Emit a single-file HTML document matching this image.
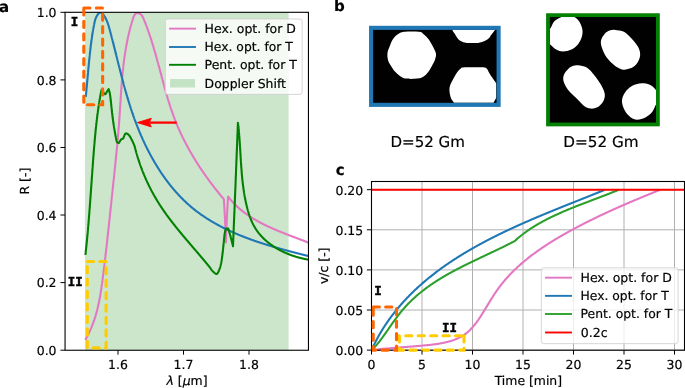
<!DOCTYPE html>
<html lang="en"><head><meta charset="utf-8"><title>Figure</title>
<style>html,body{margin:0;padding:0;background:#fff;overflow:hidden}svg{display:block}text{text-rendering:geometricPrecision;stroke:#000;stroke-width:0.2px}</style>
</head><body>
<svg width="685" height="388" viewBox="0 0 685 388" font-family='"DejaVu Sans", "Liberation Sans", sans-serif' font-size="12.45" fill="#000">
<rect width="685" height="388" fill="#fff"/>
<g opacity="0.999">
<defs><clipPath id="ca"><rect x="65.05" y="12.3" width="243.39999999999998" height="337.95"/></clipPath><clipPath id="cc"><rect x="371.5" y="181.5" width="313.0" height="168.7"/></clipPath></defs>
<g id="panel-a">
<rect x="84.9" y="12.3" width="203.70000000000002" height="337.95" fill="#cce6cc"/>
<g clip-path="url(#ca)">
<path d="M85.30,339.90 L85.51,339.54 L85.72,339.17 L85.93,338.80 L86.13,338.44 L86.33,338.07 L86.54,337.71 L86.74,337.34 L86.93,336.97 L87.13,336.61 L87.32,336.24 L87.52,335.87 L87.71,335.50 L87.90,335.13 L88.08,334.77 L88.27,334.40 L88.45,334.03 L88.64,333.66 L88.82,333.29 L89.00,332.92 L89.17,332.55 L89.35,332.18 L89.52,331.81 L89.69,331.44 L89.87,331.07 L90.03,330.70 L90.20,330.33 L90.37,329.96 L90.53,329.59 L90.69,329.21 L90.86,328.84 L91.02,328.47 L91.17,328.10 L91.33,327.72 L91.49,327.35 L91.64,326.98 L91.79,326.61 L91.94,326.23 L92.09,325.86 L92.24,325.48 L92.38,325.11 L92.53,324.74 L92.67,324.36 L92.81,323.99 L92.96,323.61 L93.09,323.24 L93.23,322.86 L93.37,322.48 L93.50,322.11 L93.64,321.73 L93.77,321.36 L93.90,320.98 L94.03,320.60 L94.16,320.23 L94.29,319.85 L94.41,319.47 L94.54,319.09 L94.66,318.72 L94.78,318.34 L94.90,317.96 L95.02,317.58 L95.14,317.20 L95.26,316.82 L95.37,316.44 L95.49,316.07 L95.60,315.69 L95.71,315.31 L95.83,314.93 L95.94,314.55 L96.05,314.17 L96.15,313.79 L96.26,313.41 L96.37,313.02 L96.47,312.64 L96.57,312.26 L96.68,311.88 L96.78,311.50 L96.88,311.12 L96.98,310.74 L97.08,310.35 L97.17,309.97 L97.27,309.59 L97.36,309.21 L97.46,308.82 L97.55,308.44 L97.64,308.06 L97.74,307.67 L97.83,307.29 L97.92,306.91 L98.01,306.52 L98.09,306.14 L98.18,305.76 L98.27,305.37 L98.35,304.99 L98.44,304.60 L98.52,304.22 L98.60,303.83 L98.68,303.45 L98.76,303.06 L98.84,302.68 L98.92,302.29 L99.00,301.90 L99.08,301.52 L99.16,301.13 L99.23,300.74 L99.31,300.36 L99.38,299.97 L99.46,299.58 L99.53,299.20 L99.60,298.81 L99.68,298.42 L99.75,298.04 L99.82,297.65 L99.89,297.26 L99.96,296.87 L100.03,296.48 L100.09,296.10 L100.16,295.71 L100.23,295.32 L100.29,294.93 L100.36,294.54 L100.43,294.15 L100.49,293.76 L100.55,293.37 L100.62,292.98 L100.68,292.59 L100.74,292.20 L100.81,291.81 L100.87,291.42 L100.93,291.03 L100.99,290.64 L101.05,290.25 L101.11,289.86 L101.17,289.47 L101.23,289.08 L101.29,288.69 L101.34,288.30 L101.40,287.91 L101.46,287.52 L101.52,287.12 L101.57,286.73 L101.63,286.34 L101.68,285.95 L101.74,285.56 L101.79,285.16 L101.85,284.77 L101.90,284.38 L101.96,283.99 L102.01,283.59 L102.07,283.20 L102.12,282.81 L102.17,282.41 L102.23,282.02 L102.28,281.63 L102.33,281.23 L102.38,280.84 L102.44,280.45 L102.49,280.05 L102.54,279.66 L102.59,279.26 L102.64,278.87 L102.70,278.48 L102.75,278.08 L102.80,277.69 L102.85,277.29 L102.90,276.90 L102.95,276.50 L103.00,276.11 L103.05,275.71 L103.10,275.32 L103.15,274.92 L103.20,274.53 L103.25,274.13 L103.31,273.74 L103.36,273.34 L103.41,272.94 L103.46,272.55 L103.51,272.15 L103.56,271.76 L103.61,271.36 L103.65,270.96 L103.70,270.57 L103.75,270.17 L103.80,269.77 L103.85,269.38 L103.90,268.98 L103.95,268.58 L104.00,268.19 L104.05,267.79 L104.10,267.39 L104.15,266.99 L104.20,266.60 L104.24,266.20 L104.29,265.80 L104.34,265.40 L104.39,265.01 L104.44,264.61 L104.49,264.21 L104.53,263.81 L104.58,263.41 L104.63,263.01 L104.68,262.62 L104.73,262.22 L104.77,261.82 L104.82,261.42 L104.87,261.02 L104.92,260.62 L104.96,260.23 L105.01,259.83 L105.06,259.43 L105.11,259.03 L105.15,258.63 L105.20,258.23 L105.25,257.83 L105.29,257.43 L105.34,257.03 L105.39,256.63 L105.43,256.23 L105.48,255.83 L105.53,255.43 L105.57,255.03 L105.62,254.63 L105.67,254.24 L105.71,253.84 L105.76,253.44 L105.81,253.04 L105.85,252.64 L105.90,252.24 L105.94,251.83 L105.99,251.43 L106.04,251.03 L106.08,250.63 L106.13,250.23 L106.17,249.83 L106.22,249.43 L106.26,249.03 L106.31,248.63 L106.36,248.23 L106.40,247.83 L106.45,247.43 L106.49,247.03 L106.54,246.63 L106.58,246.23 L106.63,245.83 L106.67,245.42 L106.72,245.02 L106.76,244.62 L106.81,244.22 L106.85,243.82 L106.90,243.42 L106.94,243.02 L106.99,242.62 L107.03,242.21 L107.07,241.81 L107.12,241.41 L107.16,241.01 L107.21,240.61 L107.25,240.21 L107.30,239.81 L107.34,239.40 L107.39,239.00 L107.43,238.60 L107.47,238.20 L107.52,237.80 L107.56,237.40 L107.61,236.99 L107.65,236.59 L107.69,236.19 L107.74,235.79 L107.78,235.39 L107.83,234.98 L107.87,234.58 L107.91,234.18 L107.96,233.78 L108.00,233.38 L108.04,232.97 L108.09,232.57 L108.13,232.17 L108.17,231.77 L108.22,231.37 L108.26,230.96 L108.30,230.56 L108.35,230.16 L108.39,229.76 L108.43,229.36 L108.48,228.95 L108.52,228.55 L108.56,228.15 L108.61,227.75 L108.65,227.34 L108.69,226.94 L108.74,226.54 L108.78,226.14 L108.82,225.74 L108.87,225.33 L108.91,224.93 L108.95,224.53 L108.99,224.13 L109.04,223.72 L109.08,223.32 L109.12,222.92 L109.17,222.52 L109.21,222.12 L109.25,221.71 L109.29,221.31 L109.34,220.91 L109.38,220.51 L109.42,220.10 L109.46,219.70 L109.51,219.30 L109.55,218.90 L109.59,218.50 L109.63,218.09 L109.68,217.69 L109.72,217.29 L109.76,216.89 L109.80,216.49 L109.85,216.08 L109.89,215.68 L109.93,215.28 L109.97,214.88 L110.02,214.48 L110.06,214.07 L110.10,213.67 L110.14,213.27 L110.19,212.87 L110.23,212.47 L110.27,212.06 L110.31,211.66 L110.35,211.26 L110.40,210.86 L110.44,210.46 L110.48,210.05 L110.52,209.65 L110.57,209.25 L110.61,208.85 L110.65,208.45 L110.69,208.05 L110.73,207.65 L110.78,207.24 L110.82,206.84 L110.86,206.44 L110.90,206.04 L110.95,205.64 L110.99,205.24 L111.03,204.84 L111.07,204.43 L111.11,204.03 L111.16,203.63 L111.20,203.23 L111.24,202.83 L111.28,202.43 L111.32,202.03 L111.37,201.63 L111.41,201.23 L111.45,200.82 L111.49,200.42 L111.54,200.02 L111.58,199.62 L111.62,199.22 L111.66,198.82 L111.70,198.42 L111.75,198.02 L111.79,197.62 L111.83,197.22 L111.87,196.82 L111.92,196.42 L111.96,196.02 L112.00,195.62 L112.04,195.22 L112.08,194.82 L112.13,194.42 L112.17,194.02 L112.21,193.62 L112.25,193.22 L112.30,192.82 L112.34,192.42 L112.38,192.02 L112.42,191.62 L112.47,191.22 L112.51,190.82 L112.55,190.42 L112.59,190.02 L112.64,189.62 L112.68,189.22 L112.72,188.83 L112.76,188.43 L112.80,188.03 L112.85,187.63 L112.89,187.23 L112.93,186.83 L112.97,186.43 L113.02,186.03 L113.06,185.63 L113.10,185.24 L113.14,184.84 L113.19,184.44 L113.23,184.04 L113.27,183.64 L113.31,183.24 L113.36,182.84 L113.40,182.45 L113.44,182.05 L113.48,181.65 L113.52,181.25 L113.57,180.85 L113.61,180.46 L113.65,180.06 L113.69,179.66 L113.73,179.26 L113.78,178.86 L113.82,178.47 L113.86,178.07 L113.90,177.67 L113.94,177.27 L113.99,176.88 L114.03,176.48 L114.07,176.08 L114.11,175.68 L114.15,175.29 L114.20,174.89 L114.24,174.49 L114.28,174.09 L114.32,173.70 L114.36,173.30 L114.40,172.90 L114.45,172.51 L114.49,172.11 L114.53,171.71 L114.57,171.31 L114.61,170.92 L114.65,170.52 L114.69,170.12 L114.74,169.73 L114.78,169.33 L114.82,168.93 L114.86,168.54 L114.90,168.14 L114.94,167.74 L114.98,167.35 L115.02,166.95 L115.06,166.55 L115.11,166.16 L115.15,165.76 L115.19,165.36 L115.23,164.97 L115.27,164.57 L115.31,164.17 L115.35,163.78 L115.39,163.38 L115.43,162.99 L115.47,162.59 L115.51,162.19 L115.55,161.80 L115.59,161.40 L115.63,161.00 L115.67,160.61 L115.71,160.21 L115.75,159.82 L115.79,159.42 L115.83,159.02 L115.87,158.63 L115.91,158.23 L115.95,157.84 L115.99,157.44 L116.03,157.05 L116.07,156.65 L116.11,156.25 L116.15,155.86 L116.19,155.46 L116.22,155.07 L116.26,154.67 L116.30,154.28 L116.34,153.88 L116.38,153.48 L116.42,153.09 L116.46,152.69 L116.50,152.30 L116.53,151.90 L116.57,151.51 L116.61,151.11 L116.65,150.72 L116.69,150.32 L116.72,149.93 L116.76,149.53 L116.80,149.14 L116.84,148.74 L116.88,148.34 L116.91,147.95 L116.95,147.55 L116.99,147.16 L117.03,146.76 L117.06,146.37 L117.10,145.97 L117.14,145.58 L117.17,145.18 L117.21,144.79 L117.25,144.39 L117.28,144.00 L117.32,143.60 L117.36,143.21 L117.39,142.81 L117.43,142.42 L117.46,142.02 L117.50,141.63 L117.54,141.23 L117.57,140.84 L117.61,140.44 L117.64,140.05 L117.68,139.65 L117.71,139.26 L117.75,138.86 L117.78,138.47 L117.82,138.07 L117.85,137.68 L117.89,137.28 L117.92,136.89 L117.96,136.49 L117.99,136.10 L118.02,135.70 L118.06,135.31 L118.09,134.91 L118.13,134.52 L118.16,134.12 L118.19,133.73 L118.23,133.33 L118.26,132.94 L118.29,132.54 L118.33,132.15 L118.36,131.76 L118.39,131.36 L118.42,130.97 L118.46,130.57 L118.49,130.18 L118.52,129.78 L118.55,129.39 L118.58,128.99 L118.62,128.60 L118.65,128.20 L118.68,127.81 L118.71,127.41 L118.74,127.02 L118.77,126.62 L118.80,126.23 L118.83,125.83 L118.87,125.44 L118.90,125.04 L118.93,124.65 L118.96,124.25 L118.99,123.86 L119.02,123.46 L119.05,123.07 L119.08,122.67 L119.11,122.28 L119.13,121.89 L119.16,121.49 L119.19,121.10 L119.22,120.70 L119.25,120.31 L119.28,119.91 L119.31,119.52 L119.34,119.12 L119.36,118.73 L119.39,118.33 L119.42,117.94 L119.45,117.54 L119.47,117.15 L119.50,116.75 L119.53,116.36 L119.56,115.96 L119.58,115.57 L119.61,115.17 L119.64,114.78 L119.66,114.38 L119.69,113.99 L119.71,113.59 L119.74,113.20 L119.77,112.80 L119.79,112.41 L119.82,112.01 L119.84,111.62 L119.87,111.22 L119.89,110.83 L119.92,110.43 L119.95,110.04 L119.97,109.64 L120.00,109.25 L120.02,108.85 L120.05,108.46 L120.07,108.06 L120.10,107.66 L120.12,107.27 L120.15,106.87 L120.17,106.48 L120.20,106.08 L120.22,105.69 L120.25,105.29 L120.27,104.90 L120.30,104.50 L120.32,104.11 L120.34,103.71 L120.37,103.32 L120.39,102.92 L120.42,102.52 L120.44,102.13 L120.47,101.73 L120.49,101.34 L120.52,100.94 L120.54,100.55 L120.57,100.15 L120.59,99.76 L120.62,99.36 L120.64,98.96 L120.67,98.57 L120.69,98.17 L120.72,97.78 L120.75,97.38 L120.77,96.98 L120.80,96.59 L120.82,96.19 L120.85,95.80 L120.87,95.40 L120.90,95.00 L120.93,94.61 L120.95,94.21 L120.98,93.82 L121.00,93.42 L121.03,93.02 L121.06,92.63 L121.08,92.23 L121.11,91.84 L121.14,91.44 L121.16,91.04 L121.19,90.65 L121.22,90.25 L121.25,89.85 L121.27,89.46 L121.30,89.06 L121.33,88.66 L121.36,88.27 L121.39,87.87 L121.42,87.47 L121.45,87.08 L121.47,86.68 L121.50,86.28 L121.53,85.89 L121.56,85.49 L121.59,85.09 L121.62,84.70 L121.65,84.30 L121.68,83.90 L121.71,83.51 L121.74,83.11 L121.78,82.71 L121.81,82.31 L121.84,81.92 L121.87,81.52 L121.90,81.12 L121.94,80.73 L121.97,80.33 L122.00,79.93 L122.03,79.53 L122.07,79.14 L122.10,78.74 L122.14,78.34 L122.17,77.94 L122.21,77.55 L122.24,77.15 L122.28,76.75 L122.31,76.35 L122.35,75.96 L122.38,75.56 L122.42,75.16 L122.46,74.76 L122.50,74.36 L122.53,73.97 L122.57,73.57 L122.61,73.17 L122.65,72.77 L122.69,72.37 L122.73,71.97 L122.77,71.58 L122.81,71.18 L122.85,70.78 L122.89,70.38 L122.93,69.98 L122.97,69.58 L123.01,69.19 L123.05,68.79 L123.10,68.39 L123.14,67.99 L123.18,67.59 L123.23,67.19 L123.27,66.79 L123.32,66.39 L123.36,65.99 L123.41,65.60 L123.46,65.20 L123.50,64.80 L123.55,64.40 L123.60,64.00 L123.65,63.60 L123.69,63.20 L123.74,62.80 L123.79,62.40 L123.84,62.00 L123.89,61.60 L123.94,61.20 L123.99,60.80 L124.05,60.40 L124.10,60.00 L124.15,59.60 L124.21,59.20 L124.26,58.80 L124.31,58.40 L124.37,58.00 L124.42,57.60 L124.48,57.20 L124.54,56.80 L124.59,56.40 L124.65,56.00 L124.71,55.60 L124.77,55.20 L124.83,54.80 L124.89,54.40 L124.95,54.00 L125.01,53.60 L125.07,53.19 L125.13,52.79 L125.20,52.39 L125.26,51.99 L125.32,51.59 L125.39,51.19 L125.45,50.79 L125.52,50.39 L125.58,49.99 L125.65,49.58 L125.72,49.18 L125.79,48.78 L125.86,48.38 L125.92,47.98 L125.99,47.57 L126.07,47.17 L126.14,46.77 L126.21,46.37 L126.28,45.97 L126.36,45.56 L126.43,45.16 L126.50,44.76 L126.58,44.36 L126.66,43.95 L126.73,43.55 L126.81,43.15 L126.89,42.75 L126.97,42.34 L127.05,41.94 L127.13,41.54 L127.21,41.14 L127.29,40.73 L127.37,40.33 L127.45,39.93 L127.54,39.52 L127.62,39.12 L127.71,38.72 L127.79,38.31 L127.88,37.91 L127.97,37.50 L128.06,37.10 L128.15,36.70 L128.24,36.29 L128.33,35.89 L128.42,35.48 L128.51,35.08 L128.60,34.68 L128.70,34.27 L128.79,33.87 L128.89,33.46 L128.98,33.06 L129.08,32.65 L129.18,32.25 L129.28,31.84 L129.38,31.44 L129.48,31.03 L129.58,30.63 L129.68,30.22 L129.78,29.82 L129.88,29.41 L129.99,29.01 L130.09,28.60 L130.20,28.20 L130.31,27.80 L130.42,27.39 L130.52,26.99 L130.63,26.58 L130.74,26.18 L130.86,25.78 L130.97,25.38 L131.08,24.98 L131.19,24.58 L131.31,24.18 L131.43,23.78 L131.54,23.38 L131.66,22.99 L131.78,22.59 L131.90,22.20 L132.02,21.81 L132.14,21.41 L132.26,21.02 L132.39,20.63 L132.51,20.25 L132.64,19.86 L132.76,19.47 L132.89,19.09 L133.02,18.71 L133.15,18.33 L133.28,17.95 L133.41,17.57 L133.54,17.20 L133.68,16.84 L133.82,16.48 L133.97,16.14 L134.13,15.80 L134.29,15.47 L134.46,15.16 L134.64,14.87 L134.82,14.59 L135.02,14.32 L135.23,14.08 L135.45,13.86 L135.69,13.66 L135.94,13.49 L136.20,13.34 L136.48,13.21 L136.77,13.12 L137.07,13.05 L137.38,13.02 L137.70,13.01 L138.03,13.04 L138.36,13.10 L138.69,13.19 L139.02,13.31 L139.35,13.45 L139.68,13.62 L140.00,13.81 L140.32,14.02 L140.63,14.26 L140.93,14.51 L141.22,14.78 L141.49,15.07 L141.75,15.37 L141.99,15.69 L142.22,16.02 L142.43,16.36 L142.63,16.71 L142.82,17.07 L143.00,17.44 L143.17,17.81 L143.34,18.19 L143.50,18.57 L143.66,18.95 L143.82,19.34 L143.98,19.72 L144.13,20.10 L144.29,20.48 L144.44,20.87 L144.60,21.25 L144.75,21.63 L144.90,22.02 L145.06,22.40 L145.21,22.78 L145.36,23.17 L145.51,23.55 L145.66,23.93 L145.80,24.32 L145.95,24.70 L146.10,25.08 L146.25,25.47 L146.39,25.85 L146.54,26.24 L146.68,26.62 L146.82,27.01 L146.97,27.39 L147.11,27.77 L147.25,28.16 L147.39,28.54 L147.53,28.93 L147.67,29.31 L147.81,29.70 L147.95,30.08 L148.09,30.47 L148.22,30.85 L148.36,31.24 L148.50,31.62 L148.63,32.01 L148.77,32.39 L148.90,32.78 L149.03,33.17 L149.17,33.55 L149.30,33.94 L149.43,34.32 L149.56,34.71 L149.69,35.09 L149.82,35.48 L149.95,35.87 L150.08,36.25 L150.21,36.64 L150.34,37.02 L150.47,37.41 L150.59,37.80 L150.72,38.18 L150.85,38.57 L150.97,38.96 L151.10,39.34 L151.22,39.73 L151.34,40.11 L151.47,40.50 L151.59,40.89 L151.71,41.27 L151.83,41.66 L151.96,42.05 L152.08,42.43 L152.20,42.82 L152.32,43.21 L152.44,43.59 L152.56,43.98 L152.68,44.37 L152.80,44.75 L152.91,45.14 L153.03,45.53 L153.15,45.92 L153.27,46.30 L153.38,46.69 L153.50,47.08 L153.61,47.46 L153.73,47.85 L153.84,48.24 L153.96,48.63 L154.07,49.01 L154.19,49.40 L154.30,49.79 L154.41,50.17 L154.53,50.56 L154.64,50.95 L154.75,51.34 L154.86,51.72 L154.97,52.11 L155.09,52.50 L155.20,52.88 L155.31,53.27 L155.42,53.66 L155.53,54.05 L155.64,54.43 L155.75,54.82 L155.86,55.21 L155.97,55.60 L156.07,55.98 L156.18,56.37 L156.29,56.76 L156.40,57.14 L156.51,57.53 L156.61,57.92 L156.72,58.31 L156.83,58.69 L156.94,59.08 L157.04,59.47 L157.15,59.85 L157.26,60.24 L157.36,60.63 L157.47,61.02 L157.57,61.40 L157.68,61.79 L157.78,62.18 L157.89,62.56 L157.99,62.95 L158.10,63.34 L158.20,63.72 L158.31,64.11 L158.41,64.50 L158.52,64.89 L158.62,65.27 L158.72,65.66 L158.83,66.05 L158.93,66.43 L159.04,66.82 L159.14,67.21 L159.24,67.59 L159.35,67.98 L159.45,68.37 L159.55,68.75 L159.66,69.14 L159.76,69.52 L159.86,69.91 L159.97,70.30 L160.07,70.68 L160.17,71.07 L160.27,71.46 L160.38,71.84 L160.48,72.23 L160.58,72.61 L160.69,73.00 L160.79,73.39 L160.89,73.77 L160.99,74.16 L161.10,74.54 L161.20,74.93 L161.30,75.31 L161.41,75.70 L161.51,76.09 L161.61,76.47 L161.71,76.86 L161.82,77.24 L161.92,77.63 L162.02,78.01 L162.13,78.40 L162.23,78.78 L162.33,79.17 L162.44,79.55 L162.54,79.94 L162.64,80.32 L162.75,80.71 L162.85,81.09 L162.95,81.47 L163.06,81.86 L163.16,82.24 L163.27,82.63 L163.37,83.01 L163.48,83.40 L163.58,83.78 L163.69,84.16 L163.79,84.55 L163.90,84.93 L164.00,85.32 L164.11,85.70 L164.21,86.08 L164.32,86.47 L164.42,86.85 L164.53,87.23 L164.64,87.61 L164.74,88.00 L164.85,88.38 L164.96,88.76 L165.06,89.15 L165.17,89.53 L165.28,89.91 L165.39,90.29 L165.49,90.68 L165.60,91.06 L165.71,91.44 L165.82,91.82 L165.93,92.20 L166.04,92.59 L166.15,92.97 L166.26,93.35 L166.37,93.73 L166.48,94.11 L166.59,94.49 L166.70,94.87 L166.81,95.25 L166.92,95.63 L167.03,96.02 L167.15,96.40 L167.26,96.78 L167.37,97.16 L167.49,97.54 L167.60,97.92 L167.71,98.30 L167.83,98.68 L167.94,99.06 L168.06,99.44 L168.17,99.81 L168.29,100.19 L168.40,100.57 L168.52,100.95 L168.64,101.33 L168.76,101.71 L168.87,102.09 L168.99,102.47 L169.11,102.84 L169.23,103.22 L169.35,103.60 L169.47,103.98 L169.59,104.36 L169.71,104.73 L169.83,105.11 L169.95,105.49 L170.07,105.87 L170.20,106.24 L170.32,106.62 L170.44,107.00 L170.57,107.37 L170.69,107.75 L170.82,108.12 L170.94,108.50 L171.07,108.88 L171.20,109.25 L171.32,109.63 L171.45,110.00 L171.58,110.38 L171.71,110.75 L171.84,111.13 L171.97,111.50 L172.10,111.88 L172.23,112.25 L172.36,112.62 L172.49,113.00 L172.62,113.37 L172.76,113.75 L172.89,114.12 L173.02,114.49 L173.16,114.87 L173.29,115.24 L173.43,115.61 L173.57,115.98 L173.70,116.36 L173.84,116.73 L173.98,117.10 L174.12,117.47 L174.26,117.84 L174.40,118.22 L174.54,118.59 L174.68,118.96 L174.82,119.33 L174.97,119.70 L175.11,120.07 L175.26,120.44 L175.40,120.81 L175.55,121.18 L175.69,121.55 L175.84,121.92 L175.99,122.29 L176.14,122.66 L176.29,123.03 L176.44,123.39 L176.59,123.76 L176.74,124.13 L176.89,124.50 L177.04,124.87 L177.20,125.23 L177.35,125.60 L177.51,125.97 L177.66,126.34 L177.82,126.70 L177.97,127.07 L178.13,127.44 L178.29,127.80 L178.45,128.17 L178.61,128.53 L178.77,128.90 L178.93,129.26 L179.09,129.63 L179.25,129.99 L179.42,130.36 L179.58,130.72 L179.75,131.09 L179.91,131.45 L180.08,131.81 L180.24,132.18 L180.41,132.54 L180.58,132.90 L180.75,133.27 L180.92,133.63 L181.09,133.99 L181.26,134.35 L181.43,134.72 L181.60,135.08 L181.77,135.44 L181.94,135.80 L182.12,136.16 L182.29,136.52 L182.47,136.88 L182.64,137.24 L182.82,137.60 L182.99,137.96 L183.17,138.32 L183.35,138.68 L183.53,139.04 L183.71,139.40 L183.89,139.76 L184.07,140.12 L184.25,140.47 L184.43,140.83 L184.61,141.19 L184.80,141.55 L184.98,141.90 L185.16,142.26 L185.35,142.62 L185.53,142.97 L185.72,143.33 L185.90,143.68 L186.09,144.04 L186.28,144.40 L186.47,144.75 L186.66,145.11 L186.85,145.46 L187.04,145.81 L187.23,146.17 L187.42,146.52 L187.61,146.88 L187.80,147.23 L187.99,147.58 L188.19,147.93 L188.38,148.29 L188.58,148.64 L188.77,148.99 L188.97,149.34 L189.16,149.69 L189.36,150.04 L189.56,150.40 L189.75,150.75 L189.95,151.10 L190.15,151.45 L190.35,151.80 L190.55,152.15 L190.75,152.49 L190.95,152.84 L191.15,153.19 L191.36,153.54 L191.56,153.89 L191.76,154.24 L191.96,154.58 L192.17,154.93 L192.37,155.28 L192.58,155.63 L192.78,155.97 L192.99,156.32 L193.20,156.66 L193.40,157.01 L193.61,157.35 L193.82,157.70 L194.03,158.04 L194.24,158.39 L194.45,158.73 L194.66,159.08 L194.87,159.42 L195.08,159.76 L195.29,160.11 L195.50,160.45 L195.72,160.79 L195.93,161.13 L196.14,161.48 L196.36,161.82 L196.57,162.16 L196.79,162.50 L197.00,162.84 L197.22,163.18 L197.44,163.52 L197.65,163.86 L197.87,164.20 L198.09,164.54 L198.31,164.88 L198.52,165.22 L198.74,165.55 L198.96,165.89 L199.18,166.23 L199.40,166.57 L199.63,166.90 L199.85,167.24 L200.07,167.58 L200.29,167.91 L200.51,168.25 L200.74,168.58 L200.96,168.92 L201.18,169.25 L201.41,169.59 L201.63,169.92 L201.86,170.26 L202.09,170.59 L202.31,170.92 L202.54,171.26 L202.76,171.59 L202.99,171.92 L203.22,172.25 L203.45,172.58 L203.68,172.92 L203.91,173.25 L204.14,173.58 L204.37,173.91 L204.60,174.24 L204.83,174.57 L205.06,174.90 L205.29,175.23 L205.52,175.55 L205.75,175.88 L205.99,176.21 L206.22,176.54 L206.45,176.87 L206.69,177.19 L206.92,177.52 L207.15,177.85 L207.39,178.17 L207.62,178.50 L207.86,178.82 L208.10,179.15 L208.33,179.47 L208.57,179.80 L208.80,180.12 L209.04,180.44 L209.28,180.77 L209.52,181.09 L209.76,181.41 L210.00,181.73 L210.23,182.06 L210.47,182.38 L210.71,182.70 L210.95,183.02 L211.19,183.34 L211.43,183.66 L211.68,183.98 L211.92,184.30 L212.16,184.62 L212.40,184.94 L212.64,185.26 L212.89,185.57 L213.13,185.89 L213.37,186.21 L213.62,186.53 L213.86,186.84 L214.10,187.16 L214.35,187.47 L214.59,187.79 L214.84,188.11 L215.08,188.42 L215.33,188.73 L215.58,189.05 L215.82,189.36 L216.07,189.68 L216.32,189.99 L216.56,190.30 L216.81,190.61 L217.06,190.92 L217.31,191.24 L217.56,191.55 L217.80,191.86 L218.05,192.17 L218.30,192.48 L218.55,192.79 L218.80,193.10 L219.05,193.41 L219.30,193.71 L219.55,194.02 L219.80,194.33 L220.05,194.64 L220.31,194.94 L220.56,195.25 L220.81,195.56 L221.06,195.86 L221.31,196.17 L221.57,196.47 L221.82,196.78 L222.07,197.08 L222.33,197.39 L222.58,197.69 L222.83,197.99 L223.09,198.29 L223.34,198.60 L223.60,198.90 L223.85,199.20 L223.88,199.60 L223.90,200.01 L223.93,200.41 L223.95,200.81 L223.98,201.22 L224.00,201.62 L224.03,202.02 L224.05,202.43 L224.08,202.83 L224.10,203.23 L224.13,203.64 L224.15,204.04 L224.18,204.45 L224.20,204.85 L224.22,205.25 L224.25,205.66 L224.27,206.06 L224.29,206.46 L224.32,206.87 L224.34,207.27 L224.36,207.67 L224.39,208.08 L224.41,208.48 L224.43,208.88 L224.46,209.29 L224.48,209.69 L224.50,210.09 L224.52,210.50 L224.55,210.90 L224.57,211.31 L224.59,211.71 L224.61,212.11 L224.64,212.52 L224.66,212.92 L224.68,213.32 L224.70,213.73 L224.72,214.13 L224.74,214.53 L224.76,214.94 L224.78,215.34 L224.80,215.75 L224.83,216.15 L224.85,216.55 L224.87,216.96 L224.89,217.36 L224.91,217.76 L224.93,218.17 L224.95,218.57 L224.97,218.98 L224.99,219.38 L225.01,219.78 L225.02,220.19 L225.04,220.59 L225.06,220.99 L225.08,221.40 L225.10,221.80 L225.12,222.21 L225.14,222.61 L225.16,223.01 L225.17,223.42 L225.19,223.82 L225.20,224.00 L225.21,224.22 L225.23,224.63 L225.25,225.03 L225.26,225.44 L225.28,225.84 L225.30,226.24 L225.32,226.65 L225.33,227.05 L225.35,227.45 L225.37,227.86 L225.38,228.26 L225.40,228.67 L225.42,229.07 L225.43,229.47 L225.45,229.88 L225.47,230.28 L225.48,230.69 L225.50,231.09 L225.51,231.49 L225.53,231.90 L225.55,232.30 L225.56,232.70 L225.58,233.11 L225.59,233.51 L225.61,233.92 L225.62,234.32 L225.64,234.72 L225.65,235.13 L225.67,235.53 L225.68,235.94 L225.70,236.34 L225.71,236.74 L225.73,237.15 L225.74,237.55 L225.75,237.96 L225.77,238.36 L225.78,238.76 L225.80,239.17 L225.81,239.57 L225.82,239.98 L225.84,240.38 L225.85,240.78 L225.86,241.19 L225.87,241.59 L225.89,242.00 L225.90,242.40 L225.91,241.99 L225.93,241.59 L225.94,241.18 L225.95,240.78 L225.97,240.37 L225.98,239.97 L225.99,239.56 L226.01,239.16 L226.02,238.75 L226.03,238.34 L226.05,237.94 L226.06,237.53 L226.08,237.13 L226.09,236.72 L226.10,236.32 L226.12,235.91 L226.13,235.51 L226.15,235.10 L226.16,234.69 L226.18,234.29 L226.19,233.88 L226.21,233.48 L226.22,233.07 L226.24,232.67 L226.26,232.26 L226.27,231.86 L226.29,231.45 L226.30,231.04 L226.32,230.64 L226.34,230.23 L226.35,229.83 L226.37,229.42 L226.39,229.02 L226.40,228.61 L226.42,228.21 L226.44,227.80 L226.45,227.40 L226.47,226.99 L226.49,226.58 L226.50,226.18 L226.52,225.77 L226.54,225.37 L226.56,224.96 L226.58,224.56 L226.59,224.15 L226.60,224.00 L226.61,223.75 L226.63,223.34 L226.65,222.94 L226.67,222.53 L226.68,222.13 L226.70,221.72 L226.72,221.32 L226.74,220.91 L226.76,220.50 L226.78,220.10 L226.80,219.69 L226.82,219.29 L226.84,218.88 L226.86,218.48 L226.88,218.07 L226.90,217.67 L226.92,217.26 L226.94,216.86 L226.96,216.45 L226.98,216.05 L227.00,215.64 L227.02,215.24 L227.04,214.83 L227.06,214.43 L227.08,214.02 L227.10,213.61 L227.12,213.21 L227.15,212.80 L227.17,212.40 L227.19,211.99 L227.21,211.59 L227.23,211.18 L227.25,210.78 L227.28,210.37 L227.30,209.97 L227.32,209.56 L227.34,209.16 L227.37,208.75 L227.39,208.35 L227.41,207.94 L227.43,207.54 L227.46,207.13 L227.48,206.73 L227.50,206.32 L227.53,205.92 L227.55,205.51 L227.57,205.11 L227.60,204.70 L227.62,204.30 L227.65,203.89 L227.67,203.49 L227.70,203.08 L227.72,202.68 L227.74,202.27 L227.77,201.87 L227.79,201.46 L227.82,201.06 L227.84,200.65 L227.87,200.25 L227.89,199.84 L227.92,199.44 L227.94,199.03 L227.97,198.63 L228.00,198.22 L228.02,197.82 L228.05,197.41 L228.07,197.00 L228.10,196.60 L228.35,196.92 L228.60,197.25 L228.85,197.57 L229.10,197.89 L229.36,198.21 L229.61,198.52 L229.87,198.84 L230.13,199.15 L230.39,199.46 L230.65,199.77 L230.91,200.08 L231.18,200.38 L231.44,200.69 L231.71,200.99 L231.98,201.29 L232.25,201.59 L232.52,201.89 L232.79,202.18 L233.07,202.48 L233.34,202.77 L233.62,203.06 L233.90,203.35 L234.18,203.64 L234.46,203.93 L234.74,204.21 L235.02,204.50 L235.31,204.78 L235.59,205.06 L235.88,205.34 L236.17,205.62 L236.46,205.89 L236.75,206.17 L237.04,206.44 L237.33,206.71 L237.62,206.98 L237.92,207.25 L238.22,207.52 L238.51,207.79 L238.81,208.05 L239.11,208.32 L239.41,208.58 L239.72,208.84 L240.02,209.10 L240.32,209.35 L240.63,209.61 L240.93,209.87 L241.24,210.12 L241.55,210.37 L241.86,210.62 L242.17,210.87 L242.48,211.12 L242.80,211.37 L243.11,211.61 L243.43,211.86 L243.74,212.10 L244.06,212.34 L244.38,212.58 L244.70,212.82 L245.02,213.06 L245.34,213.30 L245.66,213.53 L245.98,213.77 L246.31,214.00 L246.63,214.23 L246.96,214.46 L247.29,214.69 L247.61,214.92 L247.94,215.14 L248.27,215.37 L248.60,215.60 L248.93,215.82 L249.27,216.04 L249.60,216.26 L249.93,216.48 L250.27,216.70 L250.60,216.92 L250.94,217.14 L251.28,217.35 L251.62,217.57 L251.96,217.78 L252.30,217.99 L252.64,218.20 L252.98,218.41 L253.32,218.62 L253.66,218.83 L254.01,219.04 L254.35,219.24 L254.70,219.45 L255.04,219.65 L255.39,219.85 L255.74,220.06 L256.09,220.26 L256.43,220.46 L256.78,220.66 L257.13,220.85 L257.49,221.05 L257.84,221.25 L258.19,221.44 L258.54,221.64 L258.90,221.83 L259.25,222.02 L259.61,222.21 L259.96,222.40 L260.32,222.59 L260.67,222.78 L261.03,222.97 L261.39,223.16 L261.75,223.34 L262.11,223.53 L262.47,223.71 L262.83,223.90 L263.19,224.08 L263.55,224.26 L263.91,224.44 L264.27,224.62 L264.64,224.80 L265.00,224.98 L265.36,225.16 L265.73,225.34 L266.09,225.51 L266.46,225.69 L266.82,225.86 L267.19,226.04 L267.56,226.21 L267.92,226.38 L268.29,226.56 L268.66,226.73 L269.03,226.90 L269.40,227.07 L269.77,227.24 L270.14,227.41 L270.51,227.57 L270.88,227.74 L271.25,227.91 L271.62,228.07 L271.99,228.24 L272.36,228.40 L272.73,228.57 L273.11,228.73 L273.48,228.90 L273.85,229.06 L274.22,229.22 L274.60,229.38 L274.97,229.54 L275.35,229.70 L275.72,229.86 L276.10,230.02 L276.47,230.18 L276.85,230.34 L277.22,230.49 L277.60,230.65 L277.97,230.81 L278.35,230.96 L278.72,231.12 L279.10,231.27 L279.48,231.43 L279.85,231.58 L280.23,231.73 L280.61,231.89 L280.98,232.04 L281.36,232.19 L281.74,232.34 L282.12,232.50 L282.49,232.65 L282.87,232.80 L283.25,232.95 L283.63,233.10 L284.01,233.25 L284.38,233.40 L284.76,233.54 L285.14,233.69 L285.52,233.84 L285.90,233.99 L286.28,234.14 L286.65,234.28 L287.03,234.43 L287.41,234.58 L287.79,234.72 L288.17,234.87 L288.55,235.01 L288.92,235.16 L289.30,235.31 L289.68,235.45 L290.06,235.59 L290.44,235.74 L290.81,235.88 L291.19,236.03 L291.57,236.17 L291.95,236.31 L292.32,236.46 L292.70,236.60 L293.08,236.74 L293.46,236.89 L293.83,237.03 L294.21,237.17 L294.59,237.31 L294.96,237.46 L295.34,237.60 L295.72,237.74 L296.09,237.88 L296.47,238.02 L296.84,238.17 L297.22,238.31 L297.59,238.45 L297.97,238.59 L298.34,238.73 L298.72,238.87 L299.09,239.01 L299.47,239.16 L299.84,239.30 L300.21,239.44 L300.59,239.58 L300.96,239.72 L301.33,239.86 L301.70,240.00 L302.07,240.14 L302.45,240.29 L302.82,240.43 L303.19,240.57 L303.56,240.71 L303.93,240.85 L304.30,240.99 L304.67,241.13 L305.04,241.28 L305.40,241.42 L305.77,241.56 L306.14,241.70 L306.51,241.84 L306.87,241.99 L307.24,242.13 L307.61,242.27 L307.97,242.41 L308.34,242.56 L308.70,242.70" fill="none" stroke="#e377c2" stroke-width="2.1" stroke-linejoin="round" stroke-linecap="butt" />
<path d="M85.75,96.80 L85.79,96.46 L85.82,96.12 L85.86,95.77 L85.90,95.43 L85.93,95.08 L85.97,94.73 L86.01,94.38 L86.04,94.03 L86.08,93.68 L86.12,93.32 L86.15,92.97 L86.19,92.61 L86.22,92.25 L86.26,91.89 L86.30,91.53 L86.33,91.17 L86.37,90.80 L86.40,90.44 L86.44,90.07 L86.47,89.70 L86.51,89.34 L86.55,88.97 L86.58,88.59 L86.62,88.22 L86.65,87.85 L86.69,87.47 L86.72,87.10 L86.76,86.72 L86.79,86.34 L86.83,85.96 L86.86,85.58 L86.90,85.20 L86.93,84.82 L86.97,84.44 L87.00,84.05 L87.04,83.67 L87.07,83.28 L87.11,82.89 L87.15,82.51 L87.18,82.12 L87.22,81.73 L87.25,81.34 L87.29,80.94 L87.32,80.55 L87.36,80.16 L87.39,79.76 L87.43,79.37 L87.46,78.97 L87.50,78.57 L87.54,78.17 L87.57,77.78 L87.61,77.38 L87.64,76.98 L87.68,76.57 L87.71,76.17 L87.75,75.77 L87.79,75.37 L87.82,74.96 L87.86,74.56 L87.90,74.15 L87.93,73.75 L87.97,73.34 L88.01,72.93 L88.04,72.53 L88.08,72.12 L88.12,71.71 L88.15,71.30 L88.19,70.89 L88.23,70.48 L88.27,70.07 L88.30,69.65 L88.34,69.24 L88.38,68.83 L88.42,68.42 L88.46,68.00 L88.49,67.59 L88.53,67.17 L88.57,66.76 L88.61,66.34 L88.65,65.93 L88.69,65.51 L88.73,65.10 L88.77,64.68 L88.81,64.26 L88.85,63.85 L88.89,63.43 L88.93,63.01 L88.97,62.59 L89.01,62.17 L89.05,61.75 L89.09,61.34 L89.13,60.92 L89.17,60.50 L89.22,60.08 L89.26,59.66 L89.30,59.24 L89.34,58.82 L89.39,58.40 L89.43,57.98 L89.47,57.56 L89.51,57.14 L89.56,56.72 L89.60,56.30 L89.65,55.88 L89.69,55.46 L89.74,55.04 L89.78,54.62 L89.83,54.20 L89.87,53.78 L89.92,53.36 L89.96,52.94 L90.01,52.52 L90.06,52.10 L90.10,51.68 L90.15,51.26 L90.20,50.84 L90.25,50.42 L90.29,50.00 L90.34,49.58 L90.39,49.16 L90.44,48.74 L90.49,48.32 L90.54,47.91 L90.59,47.49 L90.64,47.07 L90.69,46.65 L90.74,46.24 L90.79,45.82 L90.84,45.40 L90.89,44.99 L90.95,44.57 L91.00,44.15 L91.05,43.74 L91.11,43.33 L91.16,42.91 L91.21,42.50 L91.27,42.08 L91.32,41.67 L91.38,41.26 L91.43,40.85 L91.49,40.44 L91.55,40.03 L91.60,39.62 L91.66,39.21 L91.72,38.80 L91.78,38.39 L91.84,37.98 L91.89,37.57 L91.95,37.17 L92.01,36.76 L92.07,36.35 L92.13,35.95 L92.20,35.55 L92.26,35.14 L92.32,34.74 L92.38,34.34 L92.44,33.94 L92.51,33.54 L92.57,33.14 L92.63,32.74 L92.70,32.34 L92.76,31.94 L92.83,31.54 L92.90,31.15 L92.96,30.75 L93.03,30.36 L93.10,29.97 L93.16,29.57 L93.23,29.18 L93.30,28.79 L93.37,28.40 L93.44,28.01 L93.51,27.63 L93.58,27.24 L93.65,26.85 L93.73,26.47 L93.80,26.09 L93.87,25.70 L93.94,25.32 L94.02,24.94 L94.09,24.56 L94.17,24.19 L94.24,23.81 L94.32,23.43 L94.40,23.06 L94.48,22.68 L94.56,22.31 L94.64,21.94 L94.73,21.57 L94.81,21.20 L94.91,20.83 L95.01,20.47 L95.11,20.10 L95.22,19.74 L95.33,19.37 L95.45,19.01 L95.58,18.65 L95.72,18.29 L95.86,17.94 L96.01,17.58 L96.17,17.23 L96.34,16.87 L96.52,16.52 L96.71,16.17 L96.91,15.82 L97.13,15.48 L97.35,15.13 L97.59,14.78 L97.84,14.44 L98.10,14.11 L98.37,13.79 L98.65,13.49 L98.93,13.21 L99.22,12.97 L99.52,12.77 L99.81,12.61 L100.11,12.51 L100.40,12.46 L100.69,12.48 L100.98,12.55 L101.26,12.68 L101.54,12.85 L101.82,13.05 L102.09,13.29 L102.35,13.56 L102.61,13.84 L102.86,14.13 L103.11,14.42 L103.35,14.73 L103.59,15.03 L103.82,15.34 L104.04,15.66 L104.26,15.98 L104.48,16.31 L104.69,16.64 L104.89,16.97 L105.09,17.31 L105.29,17.65 L105.48,18.00 L105.66,18.35 L105.84,18.70 L106.02,19.06 L106.20,19.42 L106.36,19.78 L106.53,20.15 L106.69,20.52 L106.85,20.89 L107.01,21.27 L107.16,21.64 L107.30,22.03 L107.45,22.41 L107.59,22.80 L107.73,23.18 L107.87,23.57 L108.00,23.97 L108.13,24.36 L108.26,24.76 L108.39,25.15 L108.52,25.55 L108.64,25.95 L108.76,26.36 L108.88,26.76 L109.00,27.16 L109.11,27.57 L109.23,27.97 L109.34,28.38 L109.45,28.78 L109.57,29.19 L109.68,29.60 L109.79,30.01 L109.90,30.41 L110.01,30.82 L110.11,31.23 L110.22,31.64 L110.33,32.04 L110.44,32.45 L110.55,32.86 L110.65,33.26 L110.76,33.67 L110.87,34.07 L110.97,34.48 L111.08,34.88 L111.19,35.29 L111.29,35.69 L111.40,36.10 L111.50,36.50 L111.61,36.91 L111.71,37.31 L111.82,37.71 L111.92,38.12 L112.03,38.52 L112.13,38.92 L112.23,39.32 L112.34,39.72 L112.44,40.13 L112.54,40.53 L112.65,40.93 L112.75,41.33 L112.85,41.73 L112.95,42.13 L113.06,42.53 L113.16,42.93 L113.26,43.33 L113.36,43.73 L113.46,44.13 L113.57,44.53 L113.67,44.93 L113.77,45.33 L113.87,45.73 L113.97,46.12 L114.07,46.52 L114.17,46.92 L114.27,47.32 L114.37,47.71 L114.47,48.11 L114.57,48.51 L114.67,48.90 L114.77,49.30 L114.87,49.70 L114.97,50.09 L115.07,50.49 L115.17,50.88 L115.27,51.28 L115.37,51.67 L115.47,52.07 L115.57,52.46 L115.66,52.86 L115.76,53.25 L115.86,53.64 L115.96,54.04 L116.06,54.43 L116.16,54.83 L116.26,55.22 L116.35,55.61 L116.45,56.00 L116.55,56.40 L116.65,56.79 L116.75,57.18 L116.84,57.57 L116.94,57.96 L117.04,58.36 L117.14,58.75 L117.24,59.14 L117.33,59.53 L117.43,59.92 L117.53,60.31 L117.63,60.70 L117.72,61.09 L117.82,61.48 L117.92,61.87 L118.02,62.26 L118.11,62.65 L118.21,63.04 L118.31,63.42 L118.41,63.81 L118.50,64.20 L118.60,64.59 L118.70,64.98 L118.80,65.37 L118.90,65.75 L118.99,66.14 L119.09,66.53 L119.19,66.92 L119.29,67.30 L119.38,67.69 L119.48,68.08 L119.58,68.46 L119.68,68.85 L119.78,69.24 L119.87,69.62 L119.97,70.01 L120.07,70.39 L120.17,70.78 L120.27,71.16 L120.37,71.55 L120.46,71.93 L120.56,72.32 L120.66,72.70 L120.76,73.09 L120.86,73.47 L120.96,73.85 L121.06,74.24 L121.16,74.62 L121.26,75.01 L121.35,75.39 L121.45,75.77 L121.55,76.16 L121.65,76.54 L121.75,76.92 L121.85,77.30 L121.95,77.69 L122.05,78.07 L122.15,78.45 L122.25,78.83 L122.36,79.21 L122.46,79.60 L122.56,79.98 L122.66,80.36 L122.76,80.74 L122.86,81.12 L122.96,81.50 L123.06,81.88 L123.17,82.26 L123.27,82.64 L123.37,83.03 L123.47,83.41 L123.57,83.79 L123.68,84.17 L123.78,84.55 L123.88,84.93 L123.99,85.30 L124.09,85.68 L124.19,86.06 L124.30,86.44 L124.40,86.82 L124.51,87.20 L124.61,87.58 L124.72,87.96 L124.82,88.34 L124.93,88.72 L125.03,89.09 L125.14,89.47 L125.24,89.85 L125.35,90.23 L125.46,90.61 L125.56,90.98 L125.67,91.36 L125.78,91.74 L125.88,92.12 L125.99,92.49 L126.10,92.87 L126.21,93.25 L126.32,93.62 L126.43,94.00 L126.53,94.38 L126.64,94.75 L126.75,95.13 L126.86,95.51 L126.97,95.88 L127.08,96.26 L127.20,96.63 L127.31,97.01 L127.42,97.39 L127.53,97.76 L127.64,98.14 L127.75,98.51 L127.87,98.89 L127.98,99.26 L128.09,99.64 L128.21,100.01 L128.32,100.39 L128.43,100.76 L128.55,101.14 L128.66,101.51 L128.78,101.89 L128.90,102.26 L129.01,102.64 L129.13,103.01 L129.24,103.39 L129.36,103.76 L129.48,104.13 L129.60,104.51 L129.72,104.88 L129.83,105.26 L129.95,105.63 L130.07,106.00 L130.19,106.38 L130.31,106.75 L130.43,107.12 L130.55,107.50 L130.68,107.87 L130.80,108.24 L130.92,108.62 L131.04,108.99 L131.17,109.36 L131.29,109.74 L131.41,110.11 L131.54,110.48 L131.66,110.85 L131.79,111.23 L131.91,111.60 L132.04,111.97 L132.16,112.34 L132.29,112.72 L132.42,113.09 L132.55,113.46 L132.68,113.83 L132.80,114.21 L132.93,114.58 L133.06,114.95 L133.19,115.32 L133.32,115.69 L133.45,116.07 L133.59,116.44 L133.72,116.81 L133.85,117.18 L133.98,117.55 L134.12,117.92 L134.25,118.30 L134.39,118.67 L134.52,119.04 L134.66,119.41 L134.79,119.78 L134.93,120.15 L135.07,120.52 L135.20,120.89 L135.34,121.27 L135.48,121.64 L135.62,122.01 L135.76,122.38 L135.90,122.75 L136.04,123.12 L136.18,123.49 L136.32,123.86 L136.47,124.23 L136.61,124.60 L136.75,124.98 L136.90,125.35 L137.04,125.72 L137.19,126.09 L137.33,126.46 L137.48,126.83 L137.62,127.20 L137.77,127.57 L137.92,127.94 L138.07,128.31 L138.22,128.68 L138.37,129.05 L138.52,129.42 L138.67,129.79 L138.82,130.16 L138.97,130.53 L139.12,130.90 L139.28,131.27 L139.43,131.64 L139.58,132.01 L139.74,132.37 L139.89,132.74 L140.05,133.11 L140.20,133.48 L140.36,133.85 L140.52,134.22 L140.68,134.58 L140.84,134.95 L140.99,135.32 L141.15,135.69 L141.31,136.06 L141.47,136.42 L141.64,136.79 L141.80,137.16 L141.96,137.52 L142.12,137.89 L142.29,138.26 L142.45,138.62 L142.62,138.99 L142.78,139.36 L142.95,139.72 L143.11,140.09 L143.28,140.45 L143.45,140.82 L143.62,141.18 L143.79,141.55 L143.95,141.91 L144.12,142.28 L144.30,142.64 L144.47,143.01 L144.64,143.37 L144.81,143.73 L144.98,144.10 L145.16,144.46 L145.33,144.82 L145.50,145.19 L145.68,145.55 L145.86,145.91 L146.03,146.27 L146.21,146.63 L146.39,147.00 L146.56,147.36 L146.74,147.72 L146.92,148.08 L147.10,148.44 L147.28,148.80 L147.46,149.16 L147.65,149.52 L147.83,149.88 L148.01,150.24 L148.19,150.60 L148.38,150.95 L148.56,151.31 L148.75,151.67 L148.93,152.03 L149.12,152.39 L149.31,152.74 L149.50,153.10 L149.68,153.46 L149.87,153.81 L150.06,154.17 L150.25,154.52 L150.44,154.88 L150.63,155.23 L150.83,155.59 L151.02,155.94 L151.21,156.30 L151.41,156.65 L151.60,157.00 L151.79,157.35 L151.99,157.71 L152.19,158.06 L152.38,158.41 L152.58,158.76 L152.78,159.11 L152.98,159.46 L153.18,159.81 L153.38,160.16 L153.58,160.51 L153.78,160.86 L153.98,161.21 L154.18,161.56 L154.39,161.91 L154.59,162.26 L154.79,162.60 L155.00,162.95 L155.20,163.30 L155.41,163.64 L155.62,163.99 L155.82,164.33 L156.03,164.68 L156.24,165.02 L156.45,165.37 L156.66,165.71 L156.87,166.05 L157.08,166.39 L157.29,166.74 L157.50,167.08 L157.72,167.42 L157.93,167.76 L158.15,168.10 L158.36,168.44 L158.58,168.78 L158.79,169.12 L159.01,169.46 L159.23,169.80 L159.44,170.13 L159.66,170.47 L159.88,170.81 L160.10,171.15 L160.32,171.48 L160.54,171.82 L160.77,172.15 L160.99,172.49 L161.21,172.82 L161.44,173.15 L161.66,173.49 L161.89,173.82 L162.11,174.15 L162.34,174.48 L162.57,174.81 L162.79,175.14 L163.02,175.47 L163.25,175.80 L163.48,176.13 L163.71,176.46 L163.94,176.79 L164.17,177.11 L164.41,177.44 L164.64,177.77 L164.87,178.09 L165.11,178.42 L165.34,178.74 L165.58,179.07 L165.81,179.39 L166.05,179.71 L166.29,180.03 L166.53,180.36 L166.77,180.68 L167.01,181.00 L167.25,181.32 L167.49,181.64 L167.73,181.96 L167.97,182.27 L168.21,182.59 L168.46,182.91 L168.70,183.22 L168.95,183.54 L169.19,183.86 L169.44,184.17 L169.69,184.48 L169.93,184.80 L170.18,185.11 L170.43,185.42 L170.68,185.73 L170.93,186.05 L171.18,186.36 L171.43,186.67 L171.69,186.97 L171.94,187.28 L172.19,187.59 L172.45,187.90 L172.70,188.20 L172.96,188.51 L173.22,188.81 L173.47,189.12 L173.73,189.42 L173.99,189.73 L174.25,190.03 L174.51,190.33 L174.77,190.63 L175.03,190.93 L175.29,191.23 L175.55,191.53 L175.82,191.83 L176.08,192.13 L176.35,192.42 L176.61,192.72 L176.88,193.02 L177.15,193.31 L177.41,193.61 L177.68,193.90 L177.95,194.19 L178.22,194.48 L178.49,194.78 L178.76,195.07 L179.03,195.36 L179.31,195.65 L179.58,195.93 L179.85,196.22 L180.13,196.51 L180.40,196.79 L180.68,197.08 L180.95,197.36 L181.23,197.65 L181.51,197.93 L181.79,198.21 L182.07,198.50 L182.35,198.78 L182.63,199.06 L182.91,199.34 L183.19,199.62 L183.48,199.89 L183.76,200.17 L184.04,200.45 L184.33,200.72 L184.62,201.00 L184.90,201.27 L185.19,201.54 L185.48,201.82 L185.77,202.09 L186.06,202.36 L186.35,202.63 L186.64,202.90 L186.93,203.17 L187.22,203.43 L187.51,203.70 L187.81,203.97 L188.10,204.23 L188.40,204.50 L188.69,204.76 L188.99,205.02 L189.29,205.28 L189.59,205.54 L189.88,205.80 L190.18,206.06 L190.48,206.32 L190.79,206.58 L191.09,206.83 L191.39,207.09 L191.69,207.35 L192.00,207.60 L192.30,207.85 L192.61,208.10 L192.91,208.36 L193.22,208.61 L193.53,208.86 L193.84,209.10 L194.15,209.35 L194.46,209.60 L194.77,209.84 L195.08,210.09 L195.39,210.33 L195.70,210.58 L196.02,210.82 L196.33,211.06 L196.64,211.30 L196.96,211.54 L197.28,211.78 L197.59,212.02 L197.91,212.26 L198.23,212.49 L198.55,212.73 L198.87,212.96 L199.19,213.20 L199.51,213.43 L199.83,213.66 L200.15,213.90 L200.48,214.13 L200.80,214.36 L201.12,214.59 L201.45,214.81 L201.77,215.04 L202.10,215.27 L202.43,215.49 L202.75,215.72 L203.08,215.94 L203.41,216.17 L203.74,216.39 L204.07,216.61 L204.40,216.83 L204.73,217.05 L205.06,217.27 L205.40,217.49 L205.73,217.71 L206.06,217.93 L206.40,218.14 L206.73,218.36 L207.07,218.57 L207.40,218.79 L207.74,219.00 L208.08,219.21 L208.42,219.42 L208.75,219.63 L209.09,219.84 L209.43,220.05 L209.77,220.26 L210.11,220.47 L210.45,220.68 L210.80,220.88 L211.14,221.09 L211.48,221.29 L211.82,221.50 L212.17,221.70 L212.51,221.90 L212.86,222.11 L213.20,222.31 L213.55,222.51 L213.90,222.71 L214.24,222.91 L214.59,223.10 L214.94,223.30 L215.29,223.50 L215.64,223.69 L215.99,223.89 L216.34,224.08 L216.69,224.28 L217.04,224.47 L217.39,224.66 L217.74,224.86 L218.10,225.05 L218.45,225.24 L218.80,225.43 L219.16,225.62 L219.51,225.80 L219.87,225.99 L220.22,226.18 L220.58,226.36 L220.93,226.55 L221.29,226.74 L221.65,226.92 L222.01,227.10 L222.36,227.29 L222.72,227.47 L223.08,227.65 L223.44,227.83 L223.80,228.01 L224.16,228.19 L224.52,228.37 L224.88,228.55 L225.25,228.72 L225.61,228.90 L225.97,229.08 L226.33,229.25 L226.70,229.43 L227.06,229.60 L227.42,229.78 L227.79,229.95 L228.15,230.12 L228.52,230.29 L228.88,230.46 L229.25,230.63 L229.62,230.80 L229.98,230.97 L230.35,231.14 L230.72,231.31 L231.09,231.48 L231.46,231.64 L231.82,231.81 L232.19,231.98 L232.56,232.14 L232.93,232.31 L233.30,232.47 L233.67,232.63 L234.04,232.80 L234.41,232.96 L234.79,233.12 L235.16,233.28 L235.53,233.44 L235.90,233.60 L236.27,233.76 L236.65,233.92 L237.02,234.07 L237.40,234.23 L237.77,234.39 L238.14,234.54 L238.52,234.70 L238.89,234.85 L239.27,235.01 L239.64,235.16 L240.02,235.32 L240.40,235.47 L240.77,235.62 L241.15,235.77 L241.53,235.92 L241.90,236.07 L242.28,236.22 L242.66,236.37 L243.04,236.52 L243.41,236.67 L243.79,236.82 L244.17,236.97 L244.55,237.11 L244.93,237.26 L245.31,237.41 L245.69,237.55 L246.07,237.70 L246.45,237.84 L246.83,237.98 L247.21,238.13 L247.59,238.27 L247.97,238.41 L248.35,238.55 L248.73,238.69 L249.12,238.84 L249.50,238.98 L249.88,239.11 L250.26,239.25 L250.64,239.39 L251.03,239.53 L251.41,239.67 L251.79,239.81 L252.18,239.94 L252.56,240.08 L252.94,240.21 L253.33,240.35 L253.71,240.48 L254.10,240.62 L254.48,240.75 L254.86,240.89 L255.25,241.02 L255.63,241.15 L256.02,241.28 L256.40,241.42 L256.79,241.55 L257.17,241.68 L257.56,241.81 L257.94,241.94 L258.33,242.07 L258.72,242.20 L259.10,242.32 L259.49,242.45 L259.87,242.58 L260.26,242.71 L260.65,242.83 L261.03,242.96 L261.42,243.09 L261.81,243.21 L262.19,243.34 L262.58,243.46 L262.97,243.59 L263.35,243.71 L263.74,243.83 L264.13,243.96 L264.52,244.08 L264.90,244.20 L265.29,244.32 L265.68,244.44 L266.07,244.56 L266.45,244.69 L266.84,244.81 L267.23,244.93 L267.62,245.04 L268.01,245.16 L268.39,245.28 L268.78,245.40 L269.17,245.52 L269.56,245.64 L269.94,245.75 L270.33,245.87 L270.72,245.99 L271.11,246.10 L271.50,246.22 L271.89,246.33 L272.27,246.45 L272.66,246.56 L273.05,246.68 L273.44,246.79 L273.83,246.90 L274.21,247.02 L274.60,247.13 L274.99,247.24 L275.38,247.36 L275.77,247.47 L276.15,247.58 L276.54,247.69 L276.93,247.80 L277.32,247.91 L277.71,248.02 L278.09,248.13 L278.48,248.24 L278.87,248.35 L279.26,248.46 L279.65,248.57 L280.03,248.68 L280.42,248.79 L280.81,248.89 L281.20,249.00 L281.58,249.11 L281.97,249.21 L282.36,249.32 L282.74,249.43 L283.13,249.53 L283.52,249.64 L283.91,249.74 L284.29,249.85 L284.68,249.95 L285.07,250.06 L285.45,250.16 L285.84,250.27 L286.22,250.37 L286.61,250.47 L287.00,250.58 L287.38,250.68 L287.77,250.78 L288.15,250.89 L288.54,250.99 L288.92,251.09 L289.31,251.19 L289.70,251.29 L290.08,251.39 L290.46,251.50 L290.85,251.60 L291.23,251.70 L291.62,251.80 L292.00,251.90 L292.39,252.00 L292.77,252.10 L293.15,252.20 L293.54,252.29 L293.92,252.39 L294.30,252.49 L294.69,252.59 L295.07,252.69 L295.45,252.79 L295.84,252.88 L296.22,252.98 L296.60,253.08 L296.98,253.18 L297.36,253.27 L297.74,253.37 L298.13,253.47 L298.51,253.56 L298.89,253.66 L299.27,253.75 L299.65,253.85 L300.03,253.95 L300.41,254.04 L300.79,254.14 L301.17,254.23 L301.55,254.33 L301.93,254.42 L302.30,254.52 L302.68,254.61 L303.06,254.70 L303.44,254.80 L303.82,254.89 L304.19,254.99 L304.57,255.08 L304.95,255.17 L305.32,255.27 L305.70,255.36 L306.08,255.45 L306.45,255.55 L306.83,255.64 L307.20,255.73 L307.58,255.82 L307.95,255.92 L308.33,256.01 L308.70,256.10" fill="none" stroke="#1f77b4" stroke-width="2.1" stroke-linejoin="round" stroke-linecap="butt" />
<path d="M85.40,255.00 L85.44,254.60 L85.49,254.21 L85.53,253.81 L85.58,253.41 L85.62,253.01 L85.67,252.62 L85.71,252.22 L85.75,251.82 L85.80,251.42 L85.84,251.03 L85.88,250.63 L85.93,250.23 L85.97,249.83 L86.01,249.44 L86.05,249.04 L86.10,248.64 L86.14,248.24 L86.18,247.85 L86.22,247.45 L86.26,247.05 L86.30,246.65 L86.34,246.25 L86.39,245.86 L86.43,245.46 L86.47,245.06 L86.51,244.66 L86.55,244.26 L86.59,243.86 L86.63,243.47 L86.67,243.07 L86.71,242.67 L86.75,242.27 L86.79,241.87 L86.83,241.47 L86.87,241.08 L86.90,240.68 L86.94,240.28 L86.98,239.88 L87.02,239.48 L87.06,239.08 L87.10,238.68 L87.14,238.28 L87.17,237.88 L87.21,237.49 L87.25,237.09 L87.29,236.69 L87.32,236.29 L87.36,235.89 L87.40,235.49 L87.44,235.09 L87.47,234.69 L87.51,234.29 L87.55,233.89 L87.58,233.49 L87.62,233.10 L87.66,232.70 L87.69,232.30 L87.73,231.90 L87.76,231.50 L87.80,231.10 L87.84,230.70 L87.87,230.30 L87.91,229.90 L87.94,229.50 L87.98,229.10 L88.01,228.70 L88.05,228.30 L88.08,227.90 L88.12,227.50 L88.15,227.10 L88.19,226.70 L88.22,226.30 L88.25,225.90 L88.29,225.50 L88.32,225.10 L88.36,224.70 L88.39,224.30 L88.42,223.90 L88.46,223.50 L88.49,223.10 L88.53,222.70 L88.56,222.30 L88.59,221.90 L88.63,221.50 L88.66,221.10 L88.69,220.70 L88.72,220.30 L88.76,219.90 L88.79,219.50 L88.82,219.10 L88.85,218.70 L88.89,218.30 L88.92,217.90 L88.95,217.50 L88.98,217.10 L89.02,216.70 L89.05,216.30 L89.08,215.90 L89.11,215.49 L89.14,215.09 L89.17,214.69 L89.21,214.29 L89.24,213.89 L89.27,213.49 L89.30,213.09 L89.33,212.69 L89.36,212.29 L89.39,211.89 L89.42,211.49 L89.46,211.09 L89.49,210.69 L89.52,210.29 L89.55,209.89 L89.58,209.48 L89.61,209.08 L89.64,208.68 L89.67,208.28 L89.70,207.88 L89.73,207.48 L89.76,207.08 L89.79,206.68 L89.82,206.28 L89.85,205.88 L89.88,205.48 L89.91,205.07 L89.94,204.67 L89.97,204.27 L90.00,203.87 L90.03,203.47 L90.06,203.07 L90.09,202.67 L90.12,202.27 L90.15,201.87 L90.18,201.47 L90.21,201.06 L90.24,200.66 L90.27,200.26 L90.30,199.86 L90.32,199.46 L90.35,199.06 L90.38,198.66 L90.41,198.26 L90.44,197.86 L90.47,197.45 L90.50,197.05 L90.53,196.65 L90.56,196.25 L90.59,195.85 L90.61,195.45 L90.64,195.05 L90.67,194.65 L90.70,194.25 L90.73,193.84 L90.76,193.44 L90.79,193.04 L90.82,192.64 L90.84,192.24 L90.87,191.84 L90.90,191.44 L90.93,191.04 L90.96,190.64 L90.99,190.23 L91.01,189.83 L91.04,189.43 L91.07,189.03 L91.10,188.63 L91.13,188.23 L91.16,187.83 L91.19,187.43 L91.21,187.02 L91.24,186.62 L91.27,186.22 L91.30,185.82 L91.33,185.42 L91.36,185.02 L91.38,184.62 L91.41,184.22 L91.44,183.82 L91.47,183.41 L91.50,183.01 L91.52,182.61 L91.55,182.21 L91.58,181.81 L91.61,181.41 L91.64,181.01 L91.67,180.61 L91.69,180.21 L91.72,179.80 L91.75,179.40 L91.78,179.00 L91.81,178.60 L91.84,178.20 L91.86,177.80 L91.89,177.40 L91.92,177.00 L91.95,176.60 L91.98,176.20 L92.01,175.79 L92.03,175.39 L92.06,174.99 L92.09,174.59 L92.12,174.19 L92.15,173.79 L92.18,173.39 L92.20,172.99 L92.23,172.59 L92.26,172.19 L92.29,171.79 L92.32,171.39 L92.35,170.98 L92.38,170.58 L92.40,170.18 L92.43,169.78 L92.46,169.38 L92.49,168.98 L92.52,168.58 L92.55,168.18 L92.58,167.78 L92.61,167.38 L92.63,166.98 L92.66,166.58 L92.69,166.18 L92.72,165.78 L92.75,165.37 L92.78,164.97 L92.81,164.57 L92.84,164.17 L92.87,163.77 L92.90,163.37 L92.93,162.97 L92.96,162.57 L92.98,162.17 L93.01,161.77 L93.04,161.37 L93.07,160.97 L93.10,160.57 L93.13,160.17 L93.16,159.77 L93.19,159.37 L93.22,158.97 L93.25,158.57 L93.28,158.17 L93.31,157.77 L93.34,157.37 L93.37,156.97 L93.40,156.57 L93.43,156.17 L93.46,155.77 L93.49,155.37 L93.52,154.97 L93.55,154.57 L93.59,154.17 L93.62,153.77 L93.65,153.37 L93.68,152.97 L93.71,152.57 L93.74,152.17 L93.77,151.77 L93.80,151.37 L93.83,150.97 L93.87,150.57 L93.90,150.17 L93.93,149.77 L93.96,149.37 L93.99,148.97 L94.03,148.57 L94.06,148.17 L94.09,147.78 L94.12,147.38 L94.16,146.98 L94.19,146.58 L94.22,146.18 L94.25,145.78 L94.29,145.38 L94.32,144.98 L94.35,144.58 L94.39,144.18 L94.42,143.78 L94.46,143.38 L94.49,142.99 L94.52,142.59 L94.56,142.19 L94.59,141.79 L94.63,141.39 L94.66,140.99 L94.70,140.59 L94.73,140.19 L94.77,139.80 L94.80,139.40 L94.84,139.00 L94.88,138.60 L94.91,138.20 L94.95,137.80 L94.98,137.40 L95.02,137.01 L95.06,136.61 L95.10,136.21 L95.13,135.81 L95.17,135.41 L95.21,135.02 L95.25,134.62 L95.28,134.22 L95.32,133.82 L95.36,133.42 L95.40,133.03 L95.44,132.63 L95.48,132.23 L95.52,131.83 L95.56,131.43 L95.59,131.04 L95.63,130.64 L95.68,130.24 L95.72,129.84 L95.76,129.45 L95.80,129.05 L95.84,128.65 L95.88,128.25 L95.92,127.86 L95.96,127.46 L96.01,127.06 L96.05,126.67 L96.09,126.27 L96.13,125.87 L96.18,125.47 L96.22,125.08 L96.26,124.68 L96.31,124.28 L96.35,123.89 L96.40,123.49 L96.44,123.09 L96.49,122.70 L96.53,122.30 L96.58,121.90 L96.62,121.51 L96.67,121.11 L96.71,120.72 L96.76,120.32 L96.81,119.92 L96.85,119.53 L96.90,119.13 L96.95,118.73 L97.00,118.34 L97.05,117.94 L97.10,117.55 L97.14,117.15 L97.19,116.76 L97.24,116.36 L97.29,115.96 L97.34,115.57 L97.39,115.17 L97.45,114.78 L97.50,114.38 L97.55,113.99 L97.60,113.59 L97.65,113.20 L97.70,112.80 L97.76,112.41 L97.81,112.01 L97.86,111.62 L97.92,111.22 L97.97,110.83 L98.03,110.43 L98.08,110.04 L98.14,109.64 L98.19,109.25 L98.25,108.85 L98.31,108.46 L98.36,108.06 L98.42,107.67 L98.48,107.28 L98.53,106.88 L98.59,106.49 L98.65,106.09 L98.71,105.70 L98.77,105.31 L98.83,104.91 L98.89,104.52 L98.95,104.12 L99.01,103.73 L99.07,103.34 L99.13,102.94 L99.19,102.55 L99.26,102.16 L99.32,101.76 L99.38,101.37 L99.45,100.98 L99.51,100.58 L99.57,100.19 L99.64,99.80 L99.70,99.41 L99.77,99.01 L99.84,98.62 L99.90,98.23 L99.97,97.83 L100.04,97.44 L100.10,97.05 L100.17,96.66 L100.24,96.27 L100.31,95.87 L100.38,95.48 L100.45,95.09 L100.52,94.70 L100.59,94.31 L100.66,93.91 L100.73,93.52 L100.81,93.13 L100.88,92.74 L100.95,92.35 L101.03,91.96 L101.10,91.56 L101.17,91.17 L101.25,90.78 L101.32,90.39 L101.40,90.00 L101.67,90.33 L101.94,90.65 L102.21,90.98 L102.49,91.30 L102.76,91.62 L103.00,91.90 L103.04,91.94 L103.32,92.31 L103.60,92.72 L103.89,93.14 L104.17,93.55 L104.46,93.89 L104.73,94.15 L105.00,94.29 L105.10,94.30 L105.25,94.27 L105.50,94.08 L105.74,93.76 L105.97,93.35 L106.21,92.89 L106.44,92.43 L106.67,92.00 L106.80,91.80 L106.91,91.64 L107.15,91.29 L107.39,90.94 L107.63,90.59 L107.87,90.24 L108.12,89.89 L108.36,89.55 L108.60,89.20 L108.74,89.58 L108.87,89.96 L109.01,90.35 L109.14,90.73 L109.26,91.12 L109.38,91.50 L109.49,91.89 L109.59,92.28 L109.67,92.67 L109.70,92.80 L109.75,93.06 L109.82,93.45 L109.89,93.85 L109.96,94.24 L110.02,94.64 L110.08,95.04 L110.14,95.44 L110.19,95.84 L110.24,96.24 L110.29,96.64 L110.34,97.04 L110.39,97.44 L110.44,97.84 L110.48,98.25 L110.53,98.65 L110.57,99.05 L110.62,99.45 L110.66,99.85 L110.71,100.26 L110.76,100.66 L110.80,101.00 L110.81,101.06 L110.86,101.46 L110.90,101.86 L110.95,102.26 L111.00,102.66 L111.04,103.06 L111.09,103.46 L111.13,103.86 L111.18,104.26 L111.22,104.66 L111.27,105.06 L111.31,105.46 L111.35,105.86 L111.40,106.26 L111.44,106.67 L111.48,107.07 L111.52,107.47 L111.57,107.87 L111.61,108.27 L111.65,108.67 L111.69,109.07 L111.73,109.47 L111.77,109.87 L111.82,110.28 L111.86,110.68 L111.90,111.08 L111.94,111.48 L111.99,111.88 L112.03,112.28 L112.07,112.68 L112.12,113.08 L112.16,113.48 L112.21,113.88 L112.25,114.28 L112.30,114.68 L112.34,115.08 L112.39,115.48 L112.44,115.89 L112.48,116.29 L112.53,116.69 L112.58,117.09 L112.63,117.48 L112.69,117.88 L112.70,118.00 L112.74,118.28 L112.79,118.68 L112.84,119.08 L112.90,119.48 L112.95,119.88 L113.01,120.28 L113.06,120.68 L113.12,121.08 L113.18,121.48 L113.24,121.88 L113.30,122.28 L113.36,122.68 L113.42,123.07 L113.48,123.47 L113.54,123.87 L113.60,124.27 L113.66,124.67 L113.72,125.07 L113.78,125.47 L113.85,125.86 L113.91,126.26 L113.98,126.66 L114.04,127.06 L114.10,127.46 L114.17,127.85 L114.23,128.25 L114.30,128.65 L114.37,129.05 L114.43,129.44 L114.50,129.84 L114.50,129.85 L114.57,130.24 L114.63,130.64 L114.70,131.04 L114.76,131.43 L114.83,131.83 L114.90,132.23 L114.97,132.63 L115.04,133.02 L115.10,133.42 L115.17,133.82 L115.25,134.22 L115.32,134.61 L115.39,135.01 L115.47,135.41 L115.54,135.80 L115.62,136.20 L115.70,136.59 L115.78,136.99 L115.86,137.38 L115.95,137.77 L116.00,138.00 L116.04,138.17 L116.12,138.58 L116.20,139.00 L116.28,139.44 L116.36,139.87 L116.45,140.29 L116.55,140.70 L116.66,141.09 L116.78,141.46 L116.92,141.79 L117.08,142.07 L117.10,142.10 L117.32,142.35 L117.68,142.62 L118.09,142.85 L118.46,142.98 L118.60,143.00 L118.75,142.97 L119.01,142.78 L119.24,142.46 L119.46,142.06 L119.68,141.62 L119.90,141.20 L120.10,140.90 L120.14,140.85 L120.38,140.51 L120.61,140.17 L120.86,139.84 L121.13,139.55 L121.30,139.40 L121.42,139.31 L121.79,139.13 L122.20,138.97 L122.60,138.81 L122.94,138.63 L123.10,138.50 L123.19,138.40 L123.38,138.10 L123.54,137.76 L123.68,137.37 L123.81,136.96 L123.94,136.54 L124.08,136.13 L124.23,135.74 L124.30,135.60 L124.41,135.37 L124.58,134.97 L124.76,134.57 L124.96,134.19 L125.19,133.89 L125.40,133.70 L125.45,133.67 L125.82,133.50 L126.23,133.40 L126.30,133.40 L126.62,133.45 L127.01,133.61 L127.20,133.70 L127.36,133.78 L127.69,133.99 L128.01,134.24 L128.32,134.51 L128.61,134.81 L128.89,135.12 L129.16,135.43 L129.30,135.60 L129.41,135.73 L129.64,136.05 L129.87,136.37 L130.09,136.71 L130.30,137.05 L130.50,137.41 L130.70,137.76 L130.89,138.12 L131.08,138.49 L131.27,138.85 L131.45,139.22 L131.64,139.58 L131.70,139.70 L131.82,139.93 L132.00,140.29 L132.18,140.65 L132.36,141.01 L132.53,141.37 L132.71,141.74 L132.88,142.10 L133.05,142.47 L133.22,142.84 L133.38,143.20 L133.54,143.57 L133.70,143.94 L133.86,144.32 L134.01,144.69 L134.16,145.07 L134.31,145.44 L134.46,145.82 L134.60,146.20 L134.70,146.60 L134.81,147.01 L134.91,147.41 L135.02,147.82 L135.12,148.22 L135.23,148.62 L135.34,149.02 L135.44,149.42 L135.55,149.82 L135.66,150.22 L135.77,150.62 L135.88,151.02 L135.99,151.42 L136.10,151.82 L136.21,152.22 L136.33,152.61 L136.44,153.01 L136.56,153.40 L136.67,153.80 L136.79,154.19 L136.90,154.59 L137.02,154.98 L137.14,155.37 L137.25,155.77 L137.37,156.16 L137.49,156.55 L137.61,156.94 L137.73,157.33 L137.85,157.72 L137.98,158.11 L138.10,158.50 L138.22,158.88 L138.35,159.27 L138.47,159.66 L138.60,160.05 L138.72,160.43 L138.85,160.82 L138.98,161.20 L139.11,161.59 L139.24,161.97 L139.36,162.35 L139.49,162.74 L139.63,163.12 L139.76,163.50 L139.89,163.88 L140.02,164.26 L140.16,164.64 L140.29,165.02 L140.43,165.40 L140.56,165.78 L140.70,166.16 L140.83,166.54 L140.97,166.92 L141.11,167.29 L141.25,167.67 L141.39,168.05 L141.53,168.42 L141.67,168.80 L141.81,169.17 L141.95,169.54 L142.10,169.92 L142.24,170.29 L142.39,170.66 L142.53,171.04 L142.68,171.41 L142.82,171.78 L142.97,172.15 L143.12,172.52 L143.27,172.89 L143.42,173.26 L143.57,173.63 L143.72,174.00 L143.87,174.36 L144.02,174.73 L144.17,175.10 L144.33,175.47 L144.48,175.83 L144.64,176.20 L144.79,176.56 L144.95,176.93 L145.11,177.29 L145.26,177.66 L145.42,178.02 L145.58,178.38 L145.74,178.75 L145.90,179.11 L146.06,179.47 L146.23,179.83 L146.39,180.19 L146.55,180.55 L146.72,180.91 L146.88,181.27 L147.05,181.63 L147.21,181.99 L147.38,182.35 L147.55,182.71 L147.71,183.06 L147.88,183.42 L148.05,183.78 L148.22,184.13 L148.40,184.49 L148.57,184.85 L148.74,185.20 L148.91,185.56 L149.09,185.91 L149.26,186.26 L149.44,186.62 L149.61,186.97 L149.79,187.32 L149.97,187.68 L150.15,188.03 L150.33,188.38 L150.50,188.73 L150.69,189.08 L150.87,189.43 L151.05,189.78 L151.23,190.13 L151.41,190.48 L151.60,190.83 L151.78,191.18 L151.97,191.53 L152.16,191.87 L152.34,192.22 L152.53,192.57 L152.72,192.91 L152.91,193.26 L153.10,193.61 L153.29,193.95 L153.48,194.30 L153.67,194.64 L153.86,194.99 L154.06,195.33 L154.25,195.67 L154.45,196.02 L154.64,196.36 L154.84,196.70 L155.04,197.04 L155.23,197.39 L155.43,197.73 L155.63,198.07 L155.83,198.41 L156.03,198.75 L156.24,199.09 L156.44,199.43 L156.64,199.77 L156.84,200.11 L157.05,200.45 L157.25,200.79 L157.46,201.12 L157.67,201.46 L157.88,201.80 L158.08,202.14 L158.29,202.47 L158.50,202.81 L158.71,203.14 L158.92,203.48 L159.14,203.82 L159.35,204.15 L159.56,204.49 L159.78,204.82 L159.99,205.16 L160.21,205.49 L160.42,205.82 L160.64,206.16 L160.86,206.49 L161.08,206.82 L161.30,207.15 L161.52,207.49 L161.74,207.82 L161.96,208.15 L162.18,208.48 L162.41,208.81 L162.63,209.14 L162.86,209.47 L163.08,209.80 L163.31,210.13 L163.53,210.46 L163.76,210.79 L163.99,211.12 L164.22,211.45 L164.45,211.78 L164.68,212.10 L164.91,212.43 L165.14,212.76 L165.37,213.09 L165.60,213.41 L165.84,213.74 L166.07,214.07 L166.31,214.39 L166.54,214.72 L166.78,215.04 L167.01,215.37 L167.25,215.69 L167.49,216.02 L167.73,216.34 L167.96,216.67 L168.20,216.99 L168.44,217.32 L168.68,217.64 L168.92,217.96 L169.17,218.29 L169.41,218.61 L169.65,218.93 L169.89,219.25 L170.14,219.58 L170.38,219.90 L170.63,220.22 L170.87,220.54 L171.12,220.86 L171.36,221.18 L171.61,221.50 L171.86,221.82 L172.10,222.14 L172.35,222.46 L172.60,222.78 L172.85,223.10 L173.10,223.42 L173.35,223.74 L173.60,224.06 L173.85,224.38 L174.10,224.70 L174.35,225.02 L174.60,225.33 L174.85,225.65 L175.11,225.97 L175.36,226.29 L175.61,226.60 L175.86,226.92 L176.12,227.24 L176.37,227.55 L176.63,227.87 L176.88,228.19 L177.14,228.50 L177.39,228.82 L177.65,229.13 L177.91,229.45 L178.16,229.76 L178.42,230.08 L178.68,230.39 L178.93,230.71 L179.19,231.02 L179.45,231.34 L179.71,231.65 L179.97,231.96 L180.22,232.28 L180.48,232.59 L180.74,232.90 L181.00,233.22 L181.26,233.53 L181.52,233.84 L181.78,234.16 L182.04,234.47 L182.30,234.78 L182.56,235.09 L182.82,235.41 L183.09,235.72 L183.35,236.03 L183.61,236.34 L183.87,236.65 L184.13,236.96 L184.39,237.27 L184.66,237.58 L184.92,237.90 L185.18,238.21 L185.44,238.52 L185.71,238.83 L185.97,239.14 L186.23,239.45 L186.49,239.76 L186.76,240.07 L187.02,240.38 L187.28,240.69 L187.55,241.00 L187.81,241.30 L188.07,241.61 L188.34,241.92 L188.60,242.23 L188.86,242.54 L189.13,242.85 L189.39,243.16 L189.66,243.47 L189.92,243.77 L190.18,244.08 L190.45,244.39 L190.71,244.70 L190.97,245.01 L191.24,245.31 L191.50,245.62 L191.76,245.93 L192.03,246.24 L192.29,246.54 L192.55,246.85 L192.82,247.16 L193.08,247.47 L193.35,247.77 L193.61,248.08 L193.87,248.39 L194.13,248.69 L194.40,249.00 L194.66,249.31 L194.92,249.61 L195.19,249.92 L195.45,250.22 L195.71,250.53 L195.97,250.84 L196.24,251.14 L196.50,251.45 L196.76,251.75 L197.02,252.06 L197.28,252.36 L197.54,252.67 L197.81,252.98 L198.07,253.28 L198.33,253.59 L198.59,253.89 L198.85,254.20 L199.11,254.50 L199.37,254.81 L199.63,255.11 L199.89,255.42 L200.15,255.72 L200.41,256.03 L200.67,256.33 L200.92,256.64 L201.18,256.94 L201.44,257.25 L201.70,257.55 L201.96,257.86 L202.21,258.16 L202.47,258.47 L202.73,258.77 L202.98,259.07 L203.24,259.38 L203.49,259.68 L203.75,259.99 L204.00,260.29 L204.26,260.60 L204.51,260.90 L204.77,261.20 L205.02,261.51 L205.28,261.81 L205.53,262.12 L205.78,262.42 L206.03,262.73 L206.28,263.03 L206.54,263.33 L206.79,263.64 L207.04,263.94 L207.29,264.25 L207.54,264.55 L207.79,264.85 L208.04,265.16 L208.28,265.46 L208.53,265.77 L208.78,266.07 L209.03,266.38 L209.27,266.68 L209.52,266.98 L209.77,267.29 L210.01,267.59 L210.26,267.90 L210.50,268.20 L210.71,268.58 L210.93,268.94 L211.16,269.30 L211.40,269.64 L211.65,269.98 L211.90,270.30 L212.16,270.61 L212.44,270.92 L212.71,271.22 L213.00,271.50 L213.29,271.78 L213.58,272.04 L213.88,272.30 L214.18,272.55 L214.49,272.79 L214.50,272.80 L214.82,273.05 L215.18,273.31 L215.56,273.57 L215.93,273.79 L216.29,273.94 L216.60,274.00 L216.60,274.00 L216.89,273.92 L217.17,273.72 L217.44,273.41 L217.70,273.03 L217.94,272.61 L218.16,272.18 L218.37,271.77 L218.50,271.50 L218.55,271.41 L218.72,271.06 L218.88,270.70 L219.04,270.33 L219.19,269.96 L219.34,269.59 L219.49,269.21 L219.62,268.82 L219.76,268.44 L219.89,268.05 L220.01,267.65 L220.13,267.26 L220.25,266.86 L220.36,266.46 L220.47,266.06 L220.57,265.66 L220.67,265.27 L220.76,264.87 L220.85,264.47 L220.94,264.07 L221.00,263.80 L221.03,263.68 L221.11,263.29 L221.18,262.89 L221.26,262.50 L221.33,262.10 L221.41,261.70 L221.48,261.30 L221.54,260.90 L221.61,260.50 L221.67,260.10 L221.73,259.70 L221.79,259.30 L221.85,258.90 L221.91,258.49 L221.97,258.09 L222.02,257.69 L222.08,257.28 L222.13,256.88 L222.18,256.47 L222.24,256.07 L222.29,255.67 L222.34,255.26 L222.39,254.86 L222.44,254.46 L222.49,254.06 L222.50,254.00 L222.54,253.65 L222.59,253.25 L222.64,252.85 L222.69,252.45 L222.73,252.04 L222.78,251.64 L222.82,251.24 L222.87,250.83 L222.91,250.43 L222.95,250.03 L222.99,249.62 L223.04,249.22 L223.08,248.82 L223.12,248.41 L223.16,248.01 L223.20,247.61 L223.24,247.20 L223.28,246.80 L223.32,246.40 L223.36,245.99 L223.40,245.59 L223.44,245.18 L223.48,244.78 L223.53,244.38 L223.57,243.97 L223.61,243.57 L223.66,243.17 L223.70,242.80 L223.70,242.77 L223.75,242.36 L223.79,241.96 L223.83,241.55 L223.88,241.15 L223.92,240.74 L223.96,240.34 L224.00,239.93 L224.04,239.53 L224.08,239.12 L224.12,238.72 L224.16,238.31 L224.20,237.90 L224.24,237.50 L224.28,237.09 L224.33,236.69 L224.37,236.29 L224.42,235.88 L224.47,235.48 L224.52,235.08 L224.57,234.68 L224.63,234.28 L224.68,233.88 L224.74,233.48 L224.81,233.08 L224.88,232.68 L224.95,232.29 L225.00,232.00 L225.02,231.90 L225.11,231.50 L225.21,231.11 L225.33,230.73 L225.45,230.34 L225.58,229.95 L225.72,229.57 L225.86,229.18 L226.00,228.80 L226.54,228.59 L227.08,228.50 L227.10,228.50 L227.64,228.51 L228.20,228.60 L228.33,229.00 L228.45,229.39 L228.58,229.79 L228.71,230.19 L228.83,230.59 L228.96,230.99 L229.08,231.38 L229.20,231.78 L229.32,232.18 L229.44,232.58 L229.56,232.98 L229.68,233.38 L229.80,233.78 L229.91,234.18 L230.00,234.50 L230.02,234.58 L230.14,234.98 L230.25,235.38 L230.36,235.79 L230.47,236.19 L230.58,236.59 L230.69,236.99 L230.80,237.39 L230.90,237.80 L231.01,238.20 L231.12,238.60 L231.23,239.01 L231.33,239.41 L231.44,239.81 L231.54,240.22 L231.64,240.62 L231.75,241.02 L231.85,241.43 L231.95,241.83 L232.05,242.24 L232.15,242.64 L232.25,243.05 L232.34,243.45 L232.44,243.86 L232.54,244.27 L232.63,244.67 L232.72,245.08 L232.82,245.49 L232.91,245.89 L233.00,246.30 L233.02,245.90 L233.03,245.50 L233.05,245.09 L233.06,244.69 L233.08,244.29 L233.10,243.89 L233.11,243.48 L233.13,243.08 L233.14,242.68 L233.16,242.28 L233.18,241.87 L233.19,241.47 L233.21,241.07 L233.22,240.67 L233.24,240.27 L233.26,239.86 L233.27,239.46 L233.29,239.06 L233.31,238.66 L233.32,238.25 L233.34,237.85 L233.35,237.45 L233.37,237.05 L233.39,236.65 L233.40,236.24 L233.42,235.84 L233.43,235.44 L233.45,235.04 L233.47,234.63 L233.48,234.23 L233.50,233.83 L233.52,233.43 L233.53,233.02 L233.55,232.62 L233.56,232.22 L233.58,231.82 L233.60,231.42 L233.61,231.01 L233.63,230.61 L233.65,230.21 L233.66,229.81 L233.68,229.40 L233.69,229.00 L233.71,228.60 L233.73,228.20 L233.74,227.80 L233.76,227.39 L233.78,226.99 L233.79,226.59 L233.81,226.19 L233.82,225.78 L233.84,225.38 L233.86,224.98 L233.87,224.58 L233.89,224.17 L233.91,223.77 L233.92,223.37 L233.94,222.97 L233.96,222.57 L233.97,222.16 L233.99,221.76 L234.00,221.36 L234.02,220.96 L234.04,220.55 L234.05,220.15 L234.06,220.00 L234.07,219.75 L234.09,219.35 L234.10,218.95 L234.12,218.54 L234.14,218.14 L234.15,217.74 L234.17,217.34 L234.19,216.93 L234.20,216.53 L234.22,216.13 L234.24,215.73 L234.25,215.32 L234.27,214.92 L234.29,214.52 L234.30,214.12 L234.32,213.72 L234.34,213.31 L234.35,212.91 L234.37,212.51 L234.39,212.11 L234.40,211.70 L234.42,211.30 L234.44,210.90 L234.45,210.50 L234.47,210.10 L234.49,209.69 L234.50,209.29 L234.52,208.89 L234.54,208.49 L234.55,208.08 L234.57,207.68 L234.59,207.28 L234.60,206.88 L234.62,206.48 L234.64,206.07 L234.65,205.67 L234.67,205.27 L234.69,204.87 L234.70,204.46 L234.72,204.06 L234.74,203.66 L234.76,203.26 L234.77,202.85 L234.79,202.45 L234.81,202.05 L234.82,201.65 L234.84,201.25 L234.86,200.84 L234.87,200.44 L234.89,200.04 L234.91,199.64 L234.92,199.23 L234.94,198.83 L234.96,198.43 L234.97,198.03 L234.99,197.63 L235.01,197.22 L235.02,196.82 L235.04,196.42 L235.06,196.02 L235.07,195.61 L235.09,195.21 L235.10,194.81 L235.12,194.41 L235.14,194.01 L235.15,193.60 L235.17,193.20 L235.19,192.80 L235.20,192.40 L235.22,191.99 L235.24,191.59 L235.25,191.19 L235.27,190.79 L235.28,190.38 L235.30,190.00 L235.30,189.98 L235.32,189.58 L235.33,189.18 L235.35,188.78 L235.37,188.37 L235.38,187.97 L235.40,187.57 L235.41,187.17 L235.43,186.76 L235.45,186.36 L235.46,185.96 L235.48,185.56 L235.49,185.16 L235.51,184.75 L235.52,184.35 L235.54,183.95 L235.56,183.55 L235.57,183.14 L235.59,182.74 L235.60,182.34 L235.62,181.94 L235.64,181.53 L235.65,181.13 L235.67,180.73 L235.68,180.33 L235.70,179.93 L235.71,179.52 L235.73,179.12 L235.75,178.72 L235.76,178.32 L235.78,177.91 L235.79,177.51 L235.81,177.11 L235.82,176.71 L235.84,176.30 L235.86,175.90 L235.87,175.50 L235.89,175.10 L235.90,174.70 L235.92,174.29 L235.93,173.89 L235.95,173.49 L235.96,173.09 L235.98,172.68 L236.00,172.28 L236.01,171.88 L236.03,171.48 L236.04,171.07 L236.06,170.67 L236.07,170.27 L236.09,169.87 L236.10,169.47 L236.12,169.06 L236.13,168.66 L236.15,168.26 L236.17,167.86 L236.18,167.45 L236.20,167.05 L236.21,166.65 L236.23,166.25 L236.24,165.84 L236.26,165.44 L236.27,165.04 L236.29,164.64 L236.31,164.24 L236.32,163.83 L236.34,163.43 L236.35,163.03 L236.37,162.63 L236.38,162.22 L236.40,161.82 L236.41,161.42 L236.43,161.02 L236.45,160.61 L236.46,160.21 L236.48,159.81 L236.49,159.41 L236.51,159.01 L236.52,158.60 L236.54,158.20 L236.55,157.80 L236.57,157.40 L236.59,156.99 L236.60,156.59 L236.62,156.19 L236.63,155.79 L236.65,155.38 L236.66,154.98 L236.68,154.58 L236.70,154.18 L236.71,153.78 L236.73,153.37 L236.74,152.97 L236.76,152.57 L236.77,152.17 L236.79,151.76 L236.81,151.36 L236.82,150.96 L236.84,150.56 L236.85,150.16 L236.86,150.00 L236.87,149.75 L236.89,149.35 L236.90,148.95 L236.92,148.55 L236.93,148.14 L236.95,147.74 L236.97,147.34 L236.98,146.94 L237.00,146.53 L237.01,146.13 L237.03,145.73 L237.05,145.33 L237.06,144.93 L237.08,144.52 L237.09,144.12 L237.11,143.72 L237.13,143.32 L237.14,142.91 L237.16,142.51 L237.17,142.11 L237.19,141.71 L237.21,141.30 L237.22,140.90 L237.24,140.50 L237.25,140.10 L237.27,139.70 L237.29,139.29 L237.30,138.89 L237.32,138.49 L237.33,138.09 L237.35,137.68 L237.37,137.28 L237.38,136.88 L237.40,136.48 L237.41,136.08 L237.43,135.67 L237.45,135.27 L237.46,134.87 L237.48,134.47 L237.50,134.06 L237.51,133.66 L237.53,133.26 L237.54,132.86 L237.56,132.45 L237.58,132.05 L237.59,131.65 L237.61,131.25 L237.62,130.85 L237.64,130.44 L237.66,130.04 L237.67,129.64 L237.69,129.24 L237.71,128.83 L237.72,128.43 L237.74,128.03 L237.75,127.63 L237.77,127.23 L237.79,126.82 L237.80,126.42 L237.82,126.02 L237.84,125.62 L237.85,125.21 L237.87,124.81 L237.88,124.41 L237.90,124.01 L237.92,123.60 L237.93,123.20 L237.95,122.80 L238.00,123.19 L238.05,123.59 L238.09,123.98 L238.14,124.38 L238.18,124.77 L238.23,125.17 L238.27,125.56 L238.32,125.96 L238.36,126.35 L238.40,126.75 L238.45,127.14 L238.49,127.54 L238.53,127.93 L238.57,128.33 L238.61,128.73 L238.65,129.12 L238.69,129.52 L238.73,129.92 L238.77,130.31 L238.80,130.71 L238.84,131.11 L238.88,131.50 L238.91,131.90 L238.95,132.30 L238.99,132.69 L239.02,133.09 L239.05,133.49 L239.09,133.89 L239.12,134.29 L239.16,134.68 L239.19,135.08 L239.22,135.48 L239.25,135.88 L239.29,136.28 L239.32,136.67 L239.35,137.07 L239.38,137.47 L239.41,137.87 L239.44,138.27 L239.47,138.67 L239.50,139.07 L239.53,139.47 L239.56,139.87 L239.59,140.26 L239.61,140.66 L239.64,141.06 L239.67,141.46 L239.70,141.86 L239.72,142.26 L239.75,142.66 L239.78,143.06 L239.81,143.46 L239.83,143.86 L239.86,144.26 L239.88,144.66 L239.91,145.06 L239.94,145.46 L239.96,145.86 L239.99,146.26 L240.01,146.66 L240.04,147.07 L240.06,147.47 L240.09,147.87 L240.11,148.27 L240.14,148.67 L240.16,149.07 L240.19,149.47 L240.21,149.87 L240.23,150.27 L240.26,150.67 L240.28,151.08 L240.31,151.48 L240.33,151.88 L240.35,152.28 L240.38,152.68 L240.40,153.08 L240.43,153.48 L240.45,153.89 L240.47,154.29 L240.50,154.69 L240.52,155.09 L240.55,155.49 L240.57,155.89 L240.59,156.29 L240.62,156.70 L240.64,157.10 L240.67,157.50 L240.69,157.90 L240.72,158.30 L240.74,158.71 L240.77,159.11 L240.79,159.51 L240.82,159.91 L240.84,160.31 L240.87,160.72 L240.89,161.12 L240.92,161.52 L240.94,161.92 L240.97,162.32 L241.00,162.73 L241.02,163.13 L241.05,163.53 L241.07,163.93 L241.10,164.33 L241.13,164.74 L241.16,165.14 L241.18,165.54 L241.21,165.94 L241.24,166.35 L241.27,166.75 L241.30,167.15 L241.33,167.55 L241.36,167.95 L241.39,168.36 L241.41,168.76 L241.45,169.16 L241.48,169.56 L241.51,169.96 L241.54,170.37 L241.57,170.77 L241.60,171.17 L241.63,171.57 L241.67,171.97 L241.70,172.38 L241.73,172.78 L241.77,173.18 L241.80,173.58 L241.84,173.98 L241.87,174.38 L241.91,174.79 L241.94,175.19 L241.98,175.59 L242.01,175.99 L242.05,176.39 L242.09,176.79 L242.13,177.20 L242.17,177.60 L242.21,178.00 L242.25,178.40 L242.29,178.80 L242.33,179.20 L242.37,179.60 L242.41,180.01 L242.45,180.41 L242.50,180.81 L242.54,181.21 L242.58,181.61 L242.63,182.01 L242.67,182.41 L242.72,182.81 L242.77,183.21 L242.81,183.61 L242.86,184.01 L242.91,184.41 L242.96,184.81 L243.01,185.21 L243.06,185.62 L243.11,186.02 L243.16,186.42 L243.21,186.82 L243.27,187.22 L243.32,187.62 L243.37,188.02 L243.43,188.42 L243.49,188.81 L243.54,189.21 L243.60,189.61 L243.66,190.01 L243.72,190.41 L243.78,190.81 L243.84,191.21 L243.90,191.61 L243.96,192.01 L244.02,192.41 L244.09,192.81 L244.15,193.21 L244.22,193.60 L244.28,194.00 L244.35,194.40 L244.42,194.80 L244.48,195.20 L244.55,195.59 L244.62,195.99 L244.70,196.39 L244.77,196.79 L244.84,197.19 L244.91,197.58 L244.99,197.98 L245.07,198.38 L245.14,198.77 L245.22,199.17 L245.30,199.57 L245.38,199.97 L245.46,200.36 L245.54,200.76 L245.62,201.15 L245.71,201.55 L245.79,201.95 L245.87,202.34 L245.96,202.74 L246.05,203.13 L246.14,203.53 L246.23,203.93 L246.32,204.32 L246.41,204.72 L246.50,205.11 L246.60,205.51 L246.69,205.90 L246.79,206.30 L246.88,206.69 L246.98,207.08 L247.08,207.48 L247.18,207.87 L247.28,208.26 L247.39,208.66 L247.49,209.05 L247.60,209.44 L247.71,209.83 L247.81,210.22 L247.92,210.61 L248.04,211.00 L248.15,211.39 L248.26,211.78 L248.38,212.17 L248.50,212.55 L248.62,212.94 L248.74,213.33 L248.86,213.71 L248.98,214.10 L249.11,214.48 L249.24,214.86 L249.36,215.25 L249.49,215.63 L249.63,216.01 L249.76,216.39 L249.90,216.77 L250.03,217.14 L250.17,217.52 L250.32,217.90 L250.46,218.27 L250.60,218.65 L250.75,219.02 L250.90,219.39 L251.05,219.76 L251.20,220.13 L251.36,220.50 L251.52,220.87 L251.68,221.23 L251.84,221.60 L252.00,221.96 L252.17,222.32 L252.33,222.68 L252.50,223.04 L252.67,223.40 L252.85,223.75 L253.03,224.11 L253.20,224.46 L253.39,224.82 L253.57,225.17 L253.76,225.51 L253.94,225.86 L254.13,226.21 L254.33,226.55 L254.52,226.90 L254.72,227.24 L254.92,227.58 L255.12,227.91 L255.33,228.25 L255.54,228.58 L255.75,228.92 L255.96,229.25 L256.18,229.57 L256.40,229.90 L256.62,230.23 L256.84,230.55 L257.07,230.87 L257.30,231.19 L257.53,231.51 L257.76,231.83 L257.99,232.14 L258.23,232.45 L258.47,232.77 L258.71,233.08 L258.96,233.38 L259.21,233.69 L259.46,233.99 L259.71,234.30 L259.96,234.60 L260.22,234.90 L260.48,235.19 L260.74,235.49 L261.00,235.78 L261.26,236.07 L261.53,236.36 L261.80,236.65 L262.07,236.94 L262.34,237.22 L262.62,237.51 L262.90,237.79 L263.18,238.07 L263.46,238.35 L263.74,238.62 L264.03,238.90 L264.31,239.17 L264.60,239.44 L264.89,239.71 L265.19,239.98 L265.48,240.24 L265.78,240.51 L266.08,240.77 L266.38,241.03 L266.68,241.29 L266.98,241.55 L267.29,241.80 L267.60,242.05 L267.91,242.31 L268.22,242.56 L268.53,242.80 L268.84,243.05 L269.16,243.30 L269.48,243.54 L269.80,243.78 L270.12,244.02 L270.44,244.26 L270.76,244.50 L271.09,244.73 L271.42,244.96 L271.74,245.19 L272.07,245.42 L272.41,245.65 L272.74,245.88 L273.07,246.10 L273.41,246.32 L273.75,246.55 L274.08,246.76 L274.42,246.98 L274.77,247.20 L275.11,247.41 L275.45,247.62 L275.80,247.84 L276.14,248.04 L276.49,248.25 L276.84,248.46 L277.19,248.66 L277.54,248.86 L277.89,249.06 L278.25,249.26 L278.60,249.46 L278.96,249.65 L279.32,249.85 L279.67,250.04 L280.03,250.23 L280.39,250.42 L280.76,250.60 L281.12,250.79 L281.48,250.97 L281.85,251.15 L282.21,251.33 L282.58,251.51 L282.94,251.69 L283.31,251.86 L283.68,252.04 L284.05,252.21 L284.42,252.38 L284.79,252.55 L285.17,252.71 L285.54,252.88 L285.91,253.04 L286.29,253.20 L286.66,253.36 L287.04,253.52 L287.42,253.68 L287.79,253.83 L288.17,253.98 L288.55,254.14 L288.93,254.28 L289.31,254.43 L289.69,254.58 L290.07,254.72 L290.45,254.87 L290.84,255.01 L291.22,255.15 L291.60,255.28 L291.99,255.42 L292.37,255.56 L292.76,255.69 L293.14,255.82 L293.53,255.95 L293.91,256.08 L294.30,256.20 L294.69,256.33 L295.07,256.45 L295.46,256.57 L295.85,256.69 L296.24,256.81 L296.63,256.92 L297.01,257.04 L297.40,257.15 L297.79,257.26 L298.18,257.37 L298.57,257.48 L298.96,257.59 L299.35,257.69 L299.74,257.79 L300.13,257.89 L300.52,257.99 L300.91,258.09 L301.30,258.19 L301.69,258.28 L302.08,258.37 L302.47,258.47 L302.86,258.55 L303.25,258.64 L303.64,258.73 L304.03,258.81 L304.42,258.90 L304.81,258.98 L305.20,259.06 L305.59,259.14 L305.98,259.21 L306.37,259.29 L306.76,259.36 L307.15,259.43 L307.54,259.50 L307.92,259.57 L308.31,259.64 L308.70,259.70" fill="none" stroke="#008000" stroke-width="2.1" stroke-linejoin="round" stroke-linecap="butt" />
</g>
<line x1="176.7" y1="122.6" x2="149.5" y2="122.6" stroke="#ff0000" stroke-width="2.3"/>
<path d="M137.3,122.6 L151.3,118.3 L149.2,122.6 L151.3,126.9Z" fill="#ff0000" stroke="#ff0000" stroke-width="0.9" stroke-linejoin="round"/>
<rect x="65.05" y="12.3" width="243.39999999999998" height="337.95" fill="none" stroke="#000" stroke-width="1.1"/>
<path d="M83.8,8.0 H102.65 V104.7 H83.8 Z" stroke="#ff6600" stroke-width="3.1" stroke-dasharray="6.2 6.25" stroke-linecap="round" fill="none"/>
<path d="M87.3,261.5 H106.1 V347.9 H87.3 Z" stroke="#ffcc00" stroke-width="3.1" stroke-dasharray="6.2 6.25" stroke-linecap="round" fill="none"/>
<line x1="118.0" y1="350.25" x2="118.0" y2="354.65" stroke="#000" stroke-width="1"/>
<text x="118.0" y="368.7" text-anchor="middle">1.6</text>
<line x1="183.5" y1="350.25" x2="183.5" y2="354.65" stroke="#000" stroke-width="1"/>
<text x="183.5" y="368.7" text-anchor="middle">1.7</text>
<line x1="249.0" y1="350.25" x2="249.0" y2="354.65" stroke="#000" stroke-width="1"/>
<text x="249.0" y="368.7" text-anchor="middle">1.8</text>
<line x1="60.449999999999996" y1="350.2" x2="65.05" y2="350.2" stroke="#000" stroke-width="1"/>
<text x="56.5" y="355.0" text-anchor="end">0.0</text>
<line x1="60.449999999999996" y1="282.6" x2="65.05" y2="282.6" stroke="#000" stroke-width="1"/>
<text x="56.5" y="287.4" text-anchor="end">0.2</text>
<line x1="60.449999999999996" y1="215.0" x2="65.05" y2="215.0" stroke="#000" stroke-width="1"/>
<text x="56.5" y="219.8" text-anchor="end">0.4</text>
<line x1="60.449999999999996" y1="147.5" x2="65.05" y2="147.5" stroke="#000" stroke-width="1"/>
<text x="56.5" y="152.3" text-anchor="end">0.6</text>
<line x1="60.449999999999996" y1="79.9" x2="65.05" y2="79.9" stroke="#000" stroke-width="1"/>
<text x="56.5" y="84.7" text-anchor="end">0.8</text>
<line x1="60.449999999999996" y1="12.3" x2="65.05" y2="12.3" stroke="#000" stroke-width="1"/>
<text x="56.5" y="17.1" text-anchor="end">1.0</text>
<text x="187.0" y="385.2" text-anchor="middle"><tspan font-style="italic">λ</tspan> [<tspan font-style="italic">µ</tspan>m]</text>
<text transform="translate(29.0,181.1) rotate(-90)" text-anchor="middle">R [-]</text>
<text x="70.7" y="26.3" font-family='"DejaVu Sans Mono", "Liberation Mono", monospace' font-weight="bold" style="stroke-width:0.5px">I</text>
<text x="67.7" y="285.8" font-family='"DejaVu Sans Mono", "Liberation Mono", monospace' font-weight="bold" style="stroke-width:0.5px">II</text>
<rect x="165.3" y="19.0" width="136.8" height="75.4" rx="2.5" fill="#fff" fill-opacity="0.8" stroke="#ccc" stroke-opacity="0.8" stroke-width="1"/>
<line x1="170.0" y1="28.64" x2="195.0" y2="28.64" stroke="#e377c2" stroke-width="1.9" stroke-linecap="square"/>
<text x="204.60" y="33.07" font-size="12.45" textLength="91.33" lengthAdjust="spacingAndGlyphs" >Hex. opt. for D</text>
<line x1="170.0" y1="47.0" x2="195.0" y2="47.0" stroke="#1f77b4" stroke-width="1.9" stroke-linecap="square"/>
<text x="204.62" y="50.90" font-size="12.45" textLength="88.17" lengthAdjust="spacingAndGlyphs" >Hex. opt. for T</text>
<line x1="170.0" y1="64.8" x2="195.0" y2="64.8" stroke="#008000" stroke-width="1.9" stroke-linecap="square"/>
<text x="204.61" y="69.46" font-size="12.45" textLength="92.25" lengthAdjust="spacingAndGlyphs" >Pent. opt. for T</text>
<rect x="170.1" y="79.1" width="24.9" height="8.4" fill="#008000" fill-opacity="0.2"/>
<text x="204.61" y="87.50" font-size="12.45" textLength="81.37" lengthAdjust="spacingAndGlyphs" >Doppler Shift</text>
<text x="-1.1" y="11.7" font-weight="bold" font-size="15.0">a</text>
</g>
<g id="panel-b">
<text x="334.0" y="11.2" font-weight="bold" font-size="15.0">b</text>
<rect x="372.2" y="28.8" width="125.0" height="74.9" fill="#000"/>
<clipPath id="cb1"><rect x="373.2" y="29.8" width="123.0" height="72.9"/></clipPath>
<g clip-path="url(#cb1)" fill="#fff">
<path d="M404.00,31.70 C407.62,31.28 416.23,31.28 419.50,31.70 C422.77,32.12 422.05,32.92 423.60,34.20 C425.15,35.48 427.25,37.33 428.80,39.40 C430.35,41.47 431.70,44.20 432.90,46.60 C434.10,49.00 435.67,51.57 436.00,53.80 C436.33,56.03 435.42,58.28 434.90,60.00 C434.38,61.72 433.92,62.22 432.90,64.10 C431.88,65.98 430.35,69.23 428.80,71.30 C427.25,73.37 425.50,75.28 423.60,76.50 C421.70,77.72 420.40,78.25 417.40,78.60 C414.40,78.95 408.52,79.03 405.60,78.60 C402.68,78.17 401.72,77.22 399.90,76.00 C398.08,74.78 396.25,73.10 394.70,71.30 C393.15,69.50 391.72,67.08 390.60,65.20 C389.48,63.32 388.52,62.03 388.00,60.00 C387.48,57.97 387.23,55.23 387.50,53.00 C387.77,50.77 388.73,48.87 389.60,46.60 C390.47,44.33 391.33,41.47 392.70,39.40 C394.07,37.33 395.92,35.48 397.80,34.20 C399.68,32.92 400.38,32.12 404.00,31.70Z"/>
<path d="M450.00,24.00 C442.20,24.95 451.47,28.15 452.20,29.70 C452.93,31.25 453.60,32.00 454.40,33.30 C455.20,34.60 455.97,36.20 457.00,37.50 C458.03,38.80 458.97,40.20 460.60,41.10 C462.23,42.00 463.88,42.60 466.80,42.90 C469.72,43.20 475.35,43.12 478.10,42.90 C480.85,42.68 481.57,42.33 483.30,41.60 C485.03,40.87 487.13,39.70 488.50,38.50 C489.87,37.30 490.38,35.87 491.50,34.40 C492.62,32.93 493.95,31.43 495.20,29.70 C496.45,27.97 506.53,24.95 499.00,24.00 C491.47,23.05 457.80,23.05 450.00,24.00Z"/>
<path d="M463.00,67.50 C465.18,67.32 470.42,67.30 474.00,67.30 C477.58,67.30 482.30,67.18 484.50,67.50 C486.70,67.82 486.50,68.47 487.20,69.20 C487.90,69.93 487.87,70.52 488.70,71.90 C489.53,73.28 491.03,75.75 492.20,77.50 C493.37,79.25 494.40,80.65 495.70,82.40 C497.00,84.15 499.28,85.90 500.00,88.00 C500.72,90.10 500.62,93.33 500.00,95.00 C499.38,96.67 497.17,97.10 496.30,98.00 C495.43,98.90 495.25,99.58 494.80,100.40 C494.35,101.22 493.90,101.63 493.60,102.90 C493.30,104.17 499.47,107.15 493.00,108.00 C486.53,108.85 461.32,108.87 454.80,108.00 C448.28,107.13 454.52,104.40 453.90,102.80 C453.28,101.20 451.83,100.30 451.10,98.40 C450.37,96.50 449.68,93.50 449.50,91.40 C449.32,89.30 449.38,87.88 450.00,85.80 C450.62,83.72 451.97,81.22 453.20,78.90 C454.43,76.58 456.12,73.65 457.40,71.90 C458.68,70.15 459.97,69.13 460.90,68.40 C461.83,67.67 460.82,67.68 463.00,67.50Z"/>
</g>
<rect x="371.1" y="27.85" width="127.5" height="77.0" fill="none" stroke="#1f77b4" stroke-width="4.1"/>
<rect x="548.8" y="16.0" width="108.5" height="107.6" fill="#000"/>
<clipPath id="cb2"><rect x="549.8" y="17.0" width="106.5" height="105.6"/></clipPath>
<g clip-path="url(#cb2)" fill="#fff">
<path d="M545.00,30.00 C545.82,28.17 548.35,30.45 549.90,29.00 C551.45,27.55 552.45,23.27 554.30,21.30 C556.15,19.33 558.80,18.12 561.00,17.20 C563.20,16.28 565.28,15.83 567.50,15.80 C569.72,15.77 572.37,16.08 574.30,17.00 C576.23,17.92 577.77,19.30 579.10,21.30 C580.43,23.30 581.83,26.45 582.30,29.00 C582.77,31.55 582.60,34.07 581.90,36.60 C581.20,39.13 579.83,42.03 578.10,44.20 C576.37,46.37 574.03,48.38 571.50,49.60 C568.97,50.82 565.45,51.50 562.90,51.50 C560.35,51.50 558.37,50.82 556.20,49.60 C554.03,48.38 551.77,45.80 549.90,44.20 C548.03,42.60 545.82,42.37 545.00,40.00 C544.18,37.63 544.18,31.83 545.00,30.00Z"/>
<path d="M615.30,29.90 C617.68,30.12 621.20,30.37 623.90,31.80 C626.60,33.23 629.12,35.95 631.50,38.50 C633.88,41.05 636.77,44.23 638.20,47.10 C639.63,49.97 640.42,52.85 640.10,55.70 C639.78,58.55 638.05,62.05 636.30,64.20 C634.55,66.35 631.98,67.73 629.60,68.60 C627.22,69.47 624.55,69.97 622.00,69.40 C619.45,68.83 616.85,67.17 614.30,65.20 C611.75,63.23 608.75,60.47 606.70,57.60 C604.65,54.73 602.95,50.87 602.00,48.00 C601.05,45.13 600.53,42.78 601.00,40.40 C601.47,38.02 603.37,35.35 604.80,33.70 C606.23,32.05 607.85,31.13 609.60,30.50 C611.35,29.87 612.92,29.68 615.30,29.90Z"/>
<path d="M578.10,65.30 C580.32,65.62 584.00,65.95 586.70,67.60 C589.40,69.25 591.92,72.33 594.30,75.20 C596.68,78.07 599.25,81.62 601.00,84.80 C602.75,87.98 604.48,91.45 604.80,94.30 C605.12,97.15 604.17,99.73 602.90,101.90 C601.63,104.07 599.27,106.18 597.20,107.30 C595.13,108.42 592.73,108.87 590.50,108.60 C588.27,108.33 586.18,107.45 583.80,105.70 C581.42,103.95 578.73,100.63 576.20,98.10 C573.67,95.57 570.67,93.20 568.60,90.50 C566.53,87.80 564.60,84.45 563.80,81.90 C563.00,79.35 563.00,77.42 563.80,75.20 C564.60,72.98 567.00,70.18 568.60,68.60 C570.20,67.02 571.82,66.25 573.40,65.70 C574.98,65.15 575.88,64.98 578.10,65.30Z"/>
<path d="M643.90,83.30 C646.43,83.55 649.43,84.50 651.50,85.70 C653.57,86.90 654.88,88.78 656.30,90.50 C657.72,92.22 659.38,94.08 660.00,96.00 C660.62,97.92 660.62,100.67 660.00,102.00 C659.38,103.33 657.55,102.42 656.30,104.00 C655.05,105.58 654.25,109.30 652.50,111.50 C650.75,113.70 648.35,115.83 645.80,117.20 C643.25,118.57 639.75,119.70 637.20,119.70 C634.65,119.70 632.57,118.73 630.50,117.20 C628.43,115.67 626.22,113.05 624.80,110.50 C623.38,107.95 622.15,104.60 622.00,101.90 C621.85,99.20 622.63,96.68 623.90,94.30 C625.17,91.92 627.53,89.28 629.60,87.60 C631.67,85.92 633.92,84.92 636.30,84.20 C638.68,83.48 641.37,83.05 643.90,83.30Z"/>
</g>
<rect x="548.0" y="15.15" width="109.9" height="109.3" fill="none" stroke="#008000" stroke-width="3.8"/>
<text x="390.44" y="146.90" font-size="15.0" textLength="74.52" lengthAdjust="spacingAndGlyphs" >D=52 Gm</text>
<text x="563.23" y="146.90" font-size="15.0" textLength="75.35" lengthAdjust="spacingAndGlyphs" >D=52 Gm</text>
</g>
<g id="panel-c">
<text x="335.7" y="174.6" font-weight="bold" font-size="15.0">c</text>
<line x1="371.5" y1="181.5" x2="371.5" y2="350.2" stroke="#b0b0b0" stroke-width="1"/>
<line x1="422.0" y1="181.5" x2="422.0" y2="350.2" stroke="#b0b0b0" stroke-width="1"/>
<line x1="472.5" y1="181.5" x2="472.5" y2="350.2" stroke="#b0b0b0" stroke-width="1"/>
<line x1="523.0" y1="181.5" x2="523.0" y2="350.2" stroke="#b0b0b0" stroke-width="1"/>
<line x1="573.5" y1="181.5" x2="573.5" y2="350.2" stroke="#b0b0b0" stroke-width="1"/>
<line x1="624.0" y1="181.5" x2="624.0" y2="350.2" stroke="#b0b0b0" stroke-width="1"/>
<line x1="674.5" y1="181.5" x2="674.5" y2="350.2" stroke="#b0b0b0" stroke-width="1"/>
<line x1="371.5" y1="350.1" x2="684.5" y2="350.1" stroke="#b0b0b0" stroke-width="1"/>
<line x1="371.5" y1="310.0" x2="684.5" y2="310.0" stroke="#b0b0b0" stroke-width="1"/>
<line x1="371.5" y1="269.9" x2="684.5" y2="269.9" stroke="#b0b0b0" stroke-width="1"/>
<line x1="371.5" y1="229.8" x2="684.5" y2="229.8" stroke="#b0b0b0" stroke-width="1"/>
<line x1="371.5" y1="189.7" x2="684.5" y2="189.7" stroke="#b0b0b0" stroke-width="1"/>
<g clip-path="url(#cc)">
<path d="M371.50,350.10 L371.91,350.05 L372.33,350.00 L372.74,349.96 L373.15,349.91 L373.56,349.87 L373.97,349.82 L374.38,349.77 L374.79,349.73 L375.20,349.69 L375.60,349.64 L376.01,349.60 L376.42,349.55 L376.82,349.51 L377.23,349.47 L377.63,349.43 L378.03,349.39 L378.43,349.34 L378.84,349.30 L379.24,349.26 L379.64,349.22 L380.04,349.18 L380.44,349.14 L380.84,349.10 L381.24,349.06 L381.63,349.02 L382.03,348.99 L382.43,348.95 L382.83,348.91 L383.22,348.87 L383.62,348.83 L384.01,348.80 L384.41,348.76 L384.80,348.72 L385.19,348.69 L385.59,348.65 L385.98,348.62 L386.37,348.58 L386.77,348.55 L387.16,348.51 L387.55,348.48 L387.94,348.44 L388.33,348.41 L388.72,348.37 L389.11,348.34 L389.50,348.31 L389.89,348.27 L390.28,348.24 L390.67,348.21 L391.06,348.17 L391.45,348.14 L391.84,348.11 L392.23,348.07 L392.62,348.04 L393.01,348.01 L393.40,347.98 L393.78,347.95 L394.17,347.91 L394.56,347.88 L394.95,347.85 L395.33,347.82 L395.72,347.79 L396.11,347.76 L396.50,347.73 L396.88,347.69 L397.27,347.66 L397.66,347.63 L398.05,347.60 L398.43,347.57 L398.82,347.54 L399.21,347.51 L399.60,347.48 L399.98,347.45 L400.37,347.42 L400.76,347.39 L401.15,347.36 L401.53,347.33 L401.92,347.30 L402.31,347.27 L402.70,347.24 L403.09,347.21 L403.48,347.17 L403.87,347.14 L404.25,347.11 L404.64,347.08 L405.03,347.05 L405.42,347.02 L405.81,346.99 L406.20,346.96 L406.59,346.93 L406.98,346.90 L407.37,346.87 L407.77,346.84 L408.16,346.81 L408.55,346.78 L408.94,346.75 L409.33,346.72 L409.73,346.68 L410.12,346.65 L410.51,346.62 L410.91,346.59 L411.30,346.56 L411.70,346.53 L412.09,346.50 L412.49,346.46 L412.89,346.43 L413.28,346.40 L413.68,346.37 L414.08,346.33 L414.48,346.30 L414.87,346.27 L415.27,346.24 L415.67,346.20 L416.07,346.17 L416.47,346.14 L416.88,346.10 L417.28,346.07 L417.68,346.03 L418.08,346.00 L418.49,345.96 L418.89,345.93 L419.30,345.89 L419.70,345.86 L420.11,345.82 L420.52,345.79 L420.93,345.75 L421.34,345.72 L421.75,345.68 L422.16,345.64 L422.57,345.61 L422.98,345.57 L423.39,345.53 L423.80,345.49 L424.22,345.45 L424.63,345.41 L425.05,345.38 L425.46,345.34 L425.88,345.30 L426.30,345.26 L426.71,345.21 L427.13,345.17 L427.55,345.13 L427.97,345.09 L428.39,345.04 L428.80,345.00 L429.22,344.95 L429.64,344.91 L430.06,344.86 L430.48,344.82 L430.90,344.77 L431.32,344.72 L431.74,344.67 L432.16,344.62 L432.58,344.57 L433.00,344.52 L433.42,344.46 L433.85,344.41 L434.27,344.35 L434.69,344.30 L435.11,344.24 L435.53,344.18 L435.94,344.12 L436.36,344.06 L436.78,344.00 L437.20,343.94 L437.62,343.87 L438.04,343.81 L438.46,343.74 L438.87,343.67 L439.29,343.60 L439.71,343.53 L440.12,343.46 L440.54,343.39 L440.95,343.31 L441.36,343.23 L441.78,343.16 L442.19,343.08 L442.60,343.00 L443.01,342.91 L443.42,342.83 L443.83,342.74 L444.24,342.66 L444.65,342.57 L445.06,342.48 L445.46,342.39 L445.87,342.29 L446.27,342.20 L446.67,342.10 L447.08,342.00 L447.48,341.90 L447.88,341.79 L448.27,341.69 L448.67,341.58 L449.07,341.47 L449.46,341.36 L449.86,341.25 L450.25,341.13 L450.64,341.01 L451.03,340.90 L451.42,340.77 L451.80,340.65 L452.19,340.52 L452.57,340.40 L452.96,340.27 L453.34,340.13 L453.72,340.00 L454.09,339.86 L454.47,339.72 L454.84,339.58 L455.22,339.44 L455.59,339.29 L455.96,339.14 L456.32,338.99 L456.69,338.84 L457.05,338.68 L457.41,338.52 L457.77,338.36 L458.13,338.19 L458.49,338.03 L458.84,337.86 L459.19,337.69 L459.54,337.51 L459.89,337.33 L460.23,337.15 L460.58,336.97 L460.92,336.78 L461.26,336.59 L461.59,336.40 L461.93,336.21 L462.26,336.01 L462.59,335.81 L462.92,335.61 L463.24,335.40 L463.56,335.19 L463.88,334.98 L464.20,334.76 L464.52,334.54 L464.83,334.32 L465.14,334.10 L465.45,333.87 L465.75,333.64 L466.05,333.41 L466.36,333.17 L466.65,332.93 L466.95,332.69 L467.25,332.45 L467.54,332.20 L467.83,331.95 L468.12,331.70 L468.40,331.45 L468.68,331.19 L468.97,330.93 L469.25,330.67 L469.52,330.41 L469.80,330.14 L470.07,329.87 L470.35,329.60 L470.62,329.33 L470.88,329.06 L471.15,328.78 L471.42,328.50 L471.68,328.22 L471.94,327.93 L472.20,327.65 L472.46,327.36 L472.71,327.07 L472.97,326.78 L473.22,326.49 L473.47,326.19 L473.72,325.90 L473.97,325.60 L474.22,325.30 L474.47,325.00 L474.71,324.69 L474.95,324.39 L475.19,324.08 L475.44,323.77 L475.67,323.46 L475.91,323.15 L476.15,322.84 L476.38,322.52 L476.62,322.21 L476.85,321.89 L477.08,321.57 L477.31,321.25 L477.54,320.93 L477.77,320.61 L478.00,320.29 L478.22,319.96 L478.45,319.64 L478.67,319.31 L478.90,318.98 L479.12,318.66 L479.34,318.33 L479.56,318.00 L479.78,317.66 L480.00,317.33 L480.22,317.00 L480.44,316.67 L480.65,316.33 L480.87,316.00 L481.09,315.66 L481.30,315.33 L481.51,314.99 L481.73,314.65 L481.94,314.31 L482.15,313.97 L482.37,313.64 L482.58,313.30 L482.79,312.96 L483.00,312.62 L483.21,312.28 L483.42,311.94 L483.63,311.60 L483.84,311.25 L484.05,310.91 L484.26,310.57 L484.47,310.23 L484.68,309.89 L484.89,309.55 L485.09,309.21 L485.30,308.86 L485.51,308.52 L485.72,308.18 L485.92,307.84 L486.13,307.50 L486.34,307.15 L486.55,306.81 L486.75,306.47 L486.96,306.13 L487.17,305.79 L487.38,305.44 L487.58,305.10 L487.79,304.76 L488.00,304.42 L488.21,304.08 L488.41,303.74 L488.62,303.39 L488.83,303.05 L489.04,302.71 L489.25,302.37 L489.46,302.03 L489.66,301.69 L489.87,301.35 L490.08,301.01 L490.29,300.67 L490.50,300.33 L490.71,299.99 L490.92,299.65 L491.13,299.31 L491.35,298.97 L491.56,298.64 L491.77,298.30 L491.98,297.96 L492.20,297.62 L492.41,297.29 L492.62,296.95 L492.84,296.61 L493.05,296.28 L493.27,295.94 L493.48,295.61 L493.70,295.27 L493.92,294.94 L494.14,294.61 L494.35,294.27 L494.57,293.94 L494.79,293.61 L495.01,293.28 L495.24,292.95 L495.46,292.62 L495.68,292.29 L495.90,291.96 L496.13,291.63 L496.35,291.30 L496.58,290.98 L496.81,290.65 L497.03,290.32 L497.26,290.00 L497.49,289.67 L497.72,289.35 L497.95,289.03 L498.19,288.70 L498.42,288.38 L498.65,288.06 L498.89,287.74 L499.13,287.42 L499.36,287.10 L499.60,286.78 L499.84,286.47 L500.08,286.15 L500.32,285.83 L500.56,285.52 L500.81,285.20 L501.05,284.89 L501.30,284.58 L501.54,284.26 L501.79,283.95 L502.04,283.64 L502.29,283.33 L502.53,283.02 L502.79,282.71 L503.04,282.41 L503.29,282.10 L503.54,281.79 L503.80,281.49 L504.05,281.18 L504.31,280.88 L504.57,280.57 L504.82,280.27 L505.08,279.97 L505.34,279.67 L505.60,279.37 L505.87,279.07 L506.13,278.77 L506.39,278.47 L506.66,278.17 L506.92,277.87 L507.19,277.58 L507.45,277.28 L507.72,276.99 L507.99,276.69 L508.26,276.40 L508.53,276.10 L508.80,275.81 L509.07,275.52 L509.34,275.23 L509.62,274.94 L509.89,274.65 L510.17,274.36 L510.44,274.07 L510.72,273.78 L511.00,273.50 L511.28,273.21 L511.55,272.93 L511.83,272.64 L512.11,272.36 L512.40,272.07 L512.68,271.79 L512.96,271.51 L513.25,271.22 L513.53,270.94 L513.82,270.66 L514.10,270.38 L514.39,270.10 L514.68,269.83 L514.96,269.55 L515.25,269.27 L515.54,268.99 L515.83,268.72 L516.12,268.44 L516.42,268.17 L516.71,267.89 L517.00,267.62 L517.30,267.35 L517.59,267.08 L517.89,266.80 L518.18,266.53 L518.48,266.26 L518.78,265.99 L519.08,265.72 L519.38,265.46 L519.68,265.19 L519.98,264.92 L520.28,264.65 L520.58,264.39 L520.88,264.12 L521.18,263.86 L521.49,263.59 L521.79,263.33 L522.10,263.07 L522.40,262.81 L522.71,262.54 L523.01,262.28 L523.32,262.02 L523.63,261.76 L523.94,261.50 L524.25,261.24 L524.56,260.99 L524.87,260.73 L525.18,260.47 L525.49,260.22 L525.80,259.96 L526.12,259.70 L526.43,259.45 L526.74,259.20 L527.06,258.94 L527.37,258.69 L527.69,258.44 L528.01,258.19 L528.32,257.93 L528.64,257.68 L528.96,257.43 L529.28,257.18 L529.60,256.94 L529.92,256.69 L530.24,256.44 L530.56,256.19 L530.88,255.95 L531.20,255.70 L531.52,255.45 L531.84,255.21 L532.17,254.97 L532.49,254.72 L532.82,254.48 L533.14,254.24 L533.47,253.99 L533.79,253.75 L534.12,253.51 L534.44,253.27 L534.77,253.03 L535.10,252.79 L535.43,252.55 L535.76,252.31 L536.08,252.07 L536.41,251.84 L536.74,251.60 L537.07,251.36 L537.40,251.13 L537.74,250.89 L538.07,250.66 L538.40,250.42 L538.73,250.19 L539.07,249.96 L539.40,249.72 L539.73,249.49 L540.07,249.26 L540.40,249.03 L540.74,248.80 L541.07,248.57 L541.41,248.34 L541.74,248.11 L542.08,247.88 L542.42,247.65 L542.75,247.43 L543.09,247.20 L543.43,246.97 L543.77,246.75 L544.11,246.52 L544.45,246.29 L544.79,246.07 L545.13,245.85 L545.47,245.62 L545.81,245.40 L546.15,245.18 L546.49,244.95 L546.83,244.73 L547.17,244.51 L547.51,244.29 L547.86,244.07 L548.20,243.85 L548.54,243.63 L548.88,243.41 L549.23,243.19 L549.57,242.97 L549.92,242.76 L550.26,242.54 L550.60,242.32 L550.95,242.11 L551.29,241.89 L551.64,241.68 L551.99,241.46 L552.33,241.25 L552.68,241.03 L553.02,240.82 L553.37,240.61 L553.72,240.39 L554.07,240.18 L554.41,239.97 L554.76,239.76 L555.11,239.55 L555.46,239.34 L555.81,239.13 L556.15,238.92 L556.50,238.71 L556.85,238.50 L557.20,238.29 L557.55,238.08 L557.90,237.88 L558.25,237.67 L558.60,237.46 L558.95,237.26 L559.30,237.05 L559.65,236.84 L560.00,236.64 L560.35,236.43 L560.70,236.23 L561.05,236.03 L561.40,235.82 L561.75,235.62 L562.11,235.42 L562.46,235.22 L562.81,235.01 L563.16,234.81 L563.51,234.61 L563.87,234.41 L564.22,234.21 L564.57,234.01 L564.92,233.81 L565.27,233.61 L565.63,233.42 L565.98,233.22 L566.33,233.02 L566.69,232.82 L567.04,232.62 L567.39,232.43 L567.74,232.23 L568.10,232.04 L568.45,231.84 L568.80,231.65 L569.16,231.45 L569.51,231.26 L569.86,231.06 L570.22,230.87 L570.57,230.68 L570.92,230.48 L571.28,230.29 L571.63,230.10 L571.98,229.91 L572.34,229.71 L572.69,229.52 L573.05,229.33 L573.40,229.14 L573.75,228.95 L574.11,228.76 L574.46,228.57 L574.81,228.38 L575.17,228.19 L575.52,228.01 L575.87,227.82 L576.23,227.63 L576.58,227.44 L576.93,227.26 L577.29,227.07 L577.64,226.88 L578.00,226.70 L578.35,226.51 L578.70,226.32 L579.06,226.14 L579.41,225.95 L579.76,225.77 L580.12,225.59 L580.47,225.40 L580.82,225.22 L581.18,225.04 L581.53,224.85 L581.88,224.67 L582.24,224.49 L582.59,224.31 L582.95,224.12 L583.30,223.94 L583.65,223.76 L584.01,223.58 L584.36,223.40 L584.71,223.22 L585.07,223.04 L585.42,222.86 L585.78,222.68 L586.13,222.50 L586.48,222.32 L586.84,222.14 L587.19,221.97 L587.55,221.79 L587.90,221.61 L588.25,221.43 L588.61,221.26 L588.96,221.08 L589.32,220.90 L589.67,220.73 L590.03,220.55 L590.38,220.38 L590.73,220.20 L591.09,220.02 L591.44,219.85 L591.80,219.68 L592.15,219.50 L592.51,219.33 L592.86,219.15 L593.22,218.98 L593.57,218.81 L593.93,218.63 L594.28,218.46 L594.64,218.29 L594.99,218.11 L595.35,217.94 L595.70,217.77 L596.06,217.60 L596.41,217.43 L596.77,217.26 L597.12,217.09 L597.48,216.91 L597.83,216.74 L598.19,216.57 L598.54,216.40 L598.90,216.23 L599.26,216.06 L599.61,215.90 L599.97,215.73 L600.32,215.56 L600.68,215.39 L601.04,215.22 L601.39,215.05 L601.75,214.88 L602.11,214.72 L602.46,214.55 L602.82,214.38 L603.18,214.21 L603.53,214.05 L603.89,213.88 L604.25,213.71 L604.60,213.55 L604.96,213.38 L605.32,213.22 L605.67,213.05 L606.03,212.88 L606.39,212.72 L606.75,212.55 L607.10,212.39 L607.46,212.22 L607.82,212.06 L608.18,211.89 L608.54,211.73 L608.89,211.57 L609.25,211.40 L609.61,211.24 L609.97,211.07 L610.33,210.91 L610.69,210.75 L611.05,210.59 L611.40,210.42 L611.76,210.26 L612.12,210.10 L612.48,209.93 L612.84,209.77 L613.20,209.61 L613.56,209.45 L613.92,209.29 L614.28,209.13 L614.64,208.96 L615.00,208.80 L615.36,208.64 L615.72,208.48 L616.08,208.32 L616.44,208.16 L616.80,208.00 L617.16,207.84 L617.52,207.68 L617.88,207.52 L618.25,207.36 L618.61,207.20 L618.97,207.04 L619.33,206.88 L619.69,206.72 L620.05,206.56 L620.42,206.40 L620.78,206.24 L621.14,206.08 L621.50,205.92 L621.87,205.76 L622.23,205.61 L622.59,205.45 L622.95,205.29 L623.32,205.13 L623.68,204.97 L624.04,204.81 L624.41,204.66 L624.77,204.50 L625.13,204.34 L625.50,204.18 L625.86,204.03 L626.23,203.87 L626.59,203.71 L626.96,203.55 L627.32,203.40 L627.69,203.24 L628.05,203.08 L628.42,202.93 L628.78,202.77 L629.15,202.61 L629.51,202.46 L629.88,202.30 L630.25,202.14 L630.61,201.99 L630.98,201.83 L631.35,201.67 L631.71,201.52 L632.08,201.36 L632.45,201.21 L632.81,201.05 L633.18,200.90 L633.55,200.74 L633.92,200.58 L634.28,200.43 L634.65,200.27 L635.02,200.12 L635.39,199.96 L635.76,199.81 L636.13,199.65 L636.50,199.50 L636.87,199.34 L637.24,199.18 L637.61,199.03 L637.98,198.87 L638.35,198.72 L638.72,198.56 L639.09,198.41 L639.46,198.25 L639.83,198.10 L640.20,197.95 L640.57,197.79 L640.94,197.64 L641.31,197.48 L641.69,197.33 L642.06,197.17 L642.43,197.02 L642.80,196.86 L643.18,196.71 L643.55,196.55 L643.92,196.40 L644.30,196.24 L644.67,196.09 L645.04,195.93 L645.42,195.78 L645.79,195.63 L646.17,195.47 L646.54,195.32 L646.92,195.16 L647.29,195.01 L647.67,194.85 L648.04,194.70 L648.42,194.54 L648.79,194.39 L649.17,194.23 L649.55,194.08 L649.92,193.93 L650.30,193.77 L650.68,193.62 L651.05,193.46 L651.43,193.31 L651.81,193.15 L652.19,193.00 L652.57,192.84 L652.94,192.69 L653.32,192.53 L653.70,192.38 L654.08,192.22 L654.46,192.07 L654.84,191.92 L655.22,191.76 L655.60,191.61 L655.98,191.45 L656.36,191.30 L656.74,191.14 L657.12,190.99 L657.51,190.83 L657.89,190.68 L658.27,190.52 L658.65,190.37 L659.03,190.21 L659.42,190.06 L659.80,189.90" fill="none" stroke="#e377c2" stroke-width="2.1" stroke-linejoin="round" stroke-linecap="butt" />
<path d="M371.50,350.15 L371.67,349.77 L371.84,349.40 L372.01,349.02 L372.18,348.65 L372.36,348.27 L372.53,347.90 L372.70,347.53 L372.88,347.15 L373.05,346.78 L373.23,346.41 L373.41,346.04 L373.59,345.67 L373.76,345.30 L373.94,344.93 L374.12,344.56 L374.31,344.20 L374.49,343.83 L374.67,343.46 L374.85,343.10 L375.04,342.73 L375.22,342.37 L375.41,342.01 L375.59,341.64 L375.78,341.28 L375.97,340.92 L376.16,340.56 L376.35,340.20 L376.54,339.84 L376.73,339.48 L376.92,339.12 L377.11,338.76 L377.30,338.41 L377.50,338.05 L377.69,337.69 L377.89,337.34 L378.08,336.98 L378.28,336.63 L378.48,336.28 L378.68,335.92 L378.87,335.57 L379.07,335.22 L379.27,334.87 L379.48,334.52 L379.68,334.17 L379.88,333.82 L380.08,333.47 L380.29,333.12 L380.49,332.78 L380.70,332.43 L380.90,332.08 L381.11,331.74 L381.32,331.39 L381.52,331.05 L381.73,330.71 L381.94,330.36 L382.15,330.02 L382.36,329.68 L382.57,329.34 L382.79,329.00 L383.00,328.66 L383.21,328.32 L383.43,327.98 L383.64,327.64 L383.86,327.30 L384.07,326.97 L384.29,326.63 L384.51,326.29 L384.73,325.96 L384.95,325.62 L385.17,325.29 L385.39,324.96 L385.61,324.62 L385.83,324.29 L386.05,323.96 L386.27,323.63 L386.50,323.30 L386.72,322.97 L386.95,322.64 L387.17,322.31 L387.40,321.98 L387.62,321.65 L387.85,321.33 L388.08,321.00 L388.31,320.67 L388.54,320.35 L388.77,320.02 L389.00,319.70 L389.23,319.38 L389.46,319.05 L389.70,318.73 L389.93,318.41 L390.16,318.09 L390.40,317.77 L390.63,317.45 L390.87,317.13 L391.10,316.81 L391.34,316.49 L391.58,316.17 L391.82,315.85 L392.06,315.54 L392.30,315.22 L392.54,314.91 L392.78,314.59 L393.02,314.28 L393.26,313.96 L393.50,313.65 L393.75,313.34 L393.99,313.02 L394.23,312.71 L394.48,312.40 L394.73,312.09 L394.97,311.78 L395.22,311.47 L395.47,311.16 L395.71,310.85 L395.96,310.54 L396.21,310.24 L396.46,309.93 L396.71,309.62 L396.96,309.32 L397.21,309.01 L397.47,308.71 L397.72,308.40 L397.97,308.10 L398.23,307.80 L398.48,307.50 L398.73,307.19 L398.99,306.89 L399.25,306.59 L399.50,306.29 L399.76,305.99 L400.02,305.69 L400.28,305.39 L400.54,305.10 L400.79,304.80 L401.05,304.50 L401.32,304.20 L401.58,303.91 L401.84,303.61 L402.10,303.32 L402.36,303.02 L402.63,302.73 L402.89,302.44 L403.16,302.14 L403.42,301.85 L403.69,301.56 L403.95,301.27 L404.22,300.98 L404.49,300.69 L404.75,300.40 L405.02,300.11 L405.29,299.82 L405.56,299.53 L405.83,299.24 L406.10,298.95 L406.37,298.67 L406.64,298.38 L406.91,298.10 L407.19,297.81 L407.46,297.53 L407.73,297.24 L408.01,296.96 L408.28,296.67 L408.56,296.39 L408.83,296.11 L409.11,295.83 L409.38,295.55 L409.66,295.27 L409.94,294.99 L410.22,294.71 L410.49,294.43 L410.77,294.15 L411.05,293.87 L411.33,293.59 L411.61,293.32 L411.89,293.04 L412.18,292.76 L412.46,292.49 L412.74,292.21 L413.02,291.94 L413.31,291.66 L413.59,291.39 L413.88,291.12 L414.16,290.84 L414.45,290.57 L414.73,290.30 L415.02,290.03 L415.30,289.76 L415.59,289.49 L415.88,289.22 L416.17,288.95 L416.46,288.68 L416.74,288.41 L417.03,288.14 L417.32,287.87 L417.61,287.61 L417.91,287.34 L418.20,287.07 L418.49,286.81 L418.78,286.54 L419.07,286.28 L419.37,286.02 L419.66,285.75 L419.95,285.49 L420.25,285.23 L420.54,284.96 L420.84,284.70 L421.14,284.44 L421.43,284.18 L421.73,283.92 L422.03,283.66 L422.32,283.40 L422.62,283.14 L422.92,282.88 L423.22,282.62 L423.52,282.36 L423.82,282.11 L424.12,281.85 L424.42,281.59 L424.72,281.34 L425.02,281.08 L425.32,280.83 L425.63,280.57 L425.93,280.32 L426.23,280.07 L426.54,279.81 L426.84,279.56 L427.14,279.31 L427.45,279.06 L427.75,278.80 L428.06,278.55 L428.37,278.30 L428.67,278.05 L428.98,277.80 L429.29,277.55 L429.59,277.30 L429.90,277.06 L430.21,276.81 L430.52,276.56 L430.83,276.31 L431.14,276.07 L431.45,275.82 L431.76,275.57 L432.07,275.33 L432.38,275.08 L432.69,274.84 L433.01,274.60 L433.32,274.35 L433.63,274.11 L433.95,273.87 L434.26,273.62 L434.57,273.38 L434.89,273.14 L435.20,272.90 L435.52,272.66 L435.83,272.42 L436.15,272.18 L436.47,271.94 L436.78,271.70 L437.10,271.46 L437.42,271.22 L437.74,270.99 L438.06,270.75 L438.37,270.51 L438.69,270.27 L439.01,270.04 L439.33,269.80 L439.65,269.57 L439.97,269.33 L440.29,269.10 L440.62,268.86 L440.94,268.63 L441.26,268.40 L441.58,268.16 L441.90,267.93 L442.23,267.70 L442.55,267.47 L442.88,267.24 L443.20,267.01 L443.52,266.78 L443.85,266.54 L444.17,266.32 L444.50,266.09 L444.83,265.86 L445.15,265.63 L445.48,265.40 L445.81,265.17 L446.13,264.95 L446.46,264.72 L446.79,264.49 L447.12,264.27 L447.45,264.04 L447.78,263.81 L448.10,263.59 L448.43,263.36 L448.76,263.14 L449.09,262.92 L449.43,262.69 L449.76,262.47 L450.09,262.25 L450.42,262.02 L450.75,261.80 L451.08,261.58 L451.42,261.36 L451.75,261.14 L452.08,260.92 L452.42,260.70 L452.75,260.48 L453.09,260.26 L453.42,260.04 L453.75,259.82 L454.09,259.60 L454.43,259.39 L454.76,259.17 L455.10,258.95 L455.43,258.73 L455.77,258.52 L456.11,258.30 L456.45,258.09 L456.78,257.87 L457.12,257.65 L457.46,257.44 L457.80,257.23 L458.14,257.01 L458.48,256.80 L458.82,256.59 L459.16,256.37 L459.50,256.16 L459.84,255.95 L460.18,255.74 L460.52,255.52 L460.86,255.31 L461.20,255.10 L461.54,254.89 L461.88,254.68 L462.23,254.47 L462.57,254.26 L462.91,254.05 L463.26,253.84 L463.60,253.64 L463.94,253.43 L464.29,253.22 L464.63,253.01 L464.98,252.81 L465.32,252.60 L465.67,252.39 L466.01,252.19 L466.36,251.98 L466.70,251.78 L467.05,251.57 L467.40,251.37 L467.74,251.16 L468.09,250.96 L468.44,250.75 L468.79,250.55 L469.13,250.35 L469.48,250.14 L469.83,249.94 L470.18,249.74 L470.53,249.54 L470.88,249.34 L471.23,249.14 L471.58,248.94 L471.92,248.73 L472.28,248.53 L472.63,248.33 L472.98,248.14 L473.33,247.94 L473.68,247.74 L474.03,247.54 L474.38,247.34 L474.73,247.14 L475.08,246.94 L475.44,246.75 L475.79,246.55 L476.14,246.35 L476.50,246.16 L476.85,245.96 L477.20,245.77 L477.56,245.57 L477.91,245.37 L478.26,245.18 L478.62,244.99 L478.97,244.79 L479.33,244.60 L479.68,244.40 L480.04,244.21 L480.39,244.02 L480.75,243.82 L481.10,243.63 L481.46,243.44 L481.82,243.25 L482.17,243.06 L482.53,242.86 L482.89,242.67 L483.24,242.48 L483.60,242.29 L483.96,242.10 L484.32,241.91 L484.68,241.72 L485.03,241.53 L485.39,241.34 L485.75,241.16 L486.11,240.97 L486.47,240.78 L486.83,240.59 L487.19,240.40 L487.55,240.22 L487.91,240.03 L488.27,239.84 L488.63,239.66 L488.99,239.47 L489.35,239.28 L489.71,239.10 L490.07,238.91 L490.43,238.73 L490.79,238.54 L491.15,238.36 L491.51,238.17 L491.88,237.99 L492.24,237.80 L492.60,237.62 L492.96,237.44 L493.33,237.25 L493.69,237.07 L494.05,236.89 L494.41,236.71 L494.78,236.53 L495.14,236.34 L495.50,236.16 L495.87,235.98 L496.23,235.80 L496.60,235.62 L496.96,235.44 L497.32,235.26 L497.69,235.08 L498.05,234.90 L498.42,234.72 L498.78,234.54 L499.15,234.36 L499.51,234.18 L499.88,234.00 L500.24,233.83 L500.61,233.65 L500.98,233.47 L501.34,233.29 L501.71,233.12 L502.07,232.94 L502.44,232.76 L502.81,232.59 L503.17,232.41 L503.54,232.23 L503.91,232.06 L504.28,231.88 L504.64,231.71 L505.01,231.53 L505.38,231.36 L505.75,231.18 L506.11,231.01 L506.48,230.83 L506.85,230.66 L507.22,230.49 L507.59,230.31 L507.95,230.14 L508.32,229.97 L508.69,229.79 L509.06,229.62 L509.43,229.45 L509.80,229.28 L510.17,229.10 L510.54,228.93 L510.91,228.76 L511.28,228.59 L511.65,228.42 L512.02,228.25 L512.39,228.08 L512.76,227.91 L513.13,227.74 L513.50,227.57 L513.87,227.40 L514.24,227.23 L514.61,227.06 L514.98,226.89 L515.35,226.72 L515.72,226.55 L516.09,226.38 L516.46,226.22 L516.83,226.05 L517.20,225.88 L517.57,225.71 L517.95,225.54 L518.32,225.38 L518.69,225.21 L519.06,225.04 L519.43,224.88 L519.80,224.71 L520.17,224.54 L520.55,224.38 L520.92,224.21 L521.29,224.05 L521.66,223.88 L522.04,223.71 L522.41,223.55 L522.78,223.38 L523.15,223.22 L523.52,223.06 L523.90,222.89 L524.27,222.73 L524.64,222.56 L525.02,222.40 L525.39,222.24 L525.76,222.07 L526.13,221.91 L526.51,221.75 L526.88,221.58 L527.25,221.42 L527.63,221.26 L528.00,221.09 L528.37,220.93 L528.75,220.77 L529.12,220.61 L529.49,220.45 L529.87,220.29 L530.24,220.12 L530.61,219.96 L530.99,219.80 L531.36,219.64 L531.74,219.48 L532.11,219.32 L532.48,219.16 L532.86,219.00 L533.23,218.84 L533.61,218.68 L533.98,218.52 L534.35,218.36 L534.73,218.20 L535.10,218.04 L535.48,217.88 L535.85,217.72 L536.22,217.57 L536.60,217.41 L536.97,217.25 L537.35,217.09 L537.72,216.93 L538.10,216.77 L538.47,216.62 L538.84,216.46 L539.22,216.30 L539.59,216.14 L539.97,215.99 L540.34,215.83 L540.72,215.67 L541.09,215.52 L541.47,215.36 L541.84,215.20 L542.21,215.05 L542.59,214.89 L542.96,214.73 L543.34,214.58 L543.71,214.42 L544.09,214.27 L544.46,214.11 L544.84,213.96 L545.21,213.80 L545.58,213.65 L545.96,213.49 L546.33,213.34 L546.71,213.18 L547.08,213.03 L547.46,212.87 L547.83,212.72 L548.21,212.56 L548.58,212.41 L548.95,212.26 L549.33,212.10 L549.70,211.95 L550.08,211.79 L550.45,211.64 L550.83,211.49 L551.20,211.33 L551.58,211.18 L551.95,211.03 L552.32,210.87 L552.70,210.72 L553.07,210.57 L553.45,210.42 L553.82,210.26 L554.19,210.11 L554.57,209.96 L554.94,209.81 L555.32,209.66 L555.69,209.50 L556.06,209.35 L556.44,209.20 L556.81,209.05 L557.19,208.90 L557.56,208.75 L557.93,208.60 L558.31,208.44 L558.68,208.29 L559.05,208.14 L559.43,207.99 L559.80,207.84 L560.17,207.69 L560.55,207.54 L560.92,207.39 L561.29,207.24 L561.67,207.09 L562.04,206.94 L562.41,206.79 L562.79,206.64 L563.16,206.49 L563.53,206.34 L563.91,206.19 L564.28,206.04 L564.65,205.89 L565.02,205.74 L565.40,205.59 L565.77,205.44 L566.14,205.29 L566.51,205.14 L566.89,204.99 L567.26,204.84 L567.63,204.70 L568.00,204.55 L568.37,204.40 L568.75,204.25 L569.12,204.10 L569.49,203.95 L569.86,203.80 L570.23,203.66 L570.60,203.51 L570.98,203.36 L571.35,203.21 L571.72,203.06 L572.09,202.91 L572.46,202.77 L572.83,202.62 L573.20,202.47 L573.57,202.32 L573.94,202.18 L574.31,202.03 L574.68,201.88 L575.06,201.73 L575.43,201.59 L575.80,201.44 L576.17,201.29 L576.54,201.14 L576.91,201.00 L577.28,200.85 L577.64,200.70 L578.01,200.56 L578.38,200.41 L578.75,200.26 L579.12,200.11 L579.49,199.97 L579.86,199.82 L580.23,199.67 L580.60,199.53 L580.97,199.38 L581.33,199.23 L581.70,199.09 L582.07,198.94 L582.44,198.79 L582.81,198.65 L583.17,198.50 L583.54,198.35 L583.91,198.21 L584.28,198.06 L584.64,197.92 L585.01,197.77 L585.38,197.62 L585.75,197.48 L586.11,197.33 L586.48,197.19 L586.84,197.04 L587.21,196.89 L587.58,196.75 L587.94,196.60 L588.31,196.46 L588.67,196.31 L589.04,196.16 L589.41,196.02 L589.77,195.87 L590.14,195.73 L590.50,195.58 L590.87,195.43 L591.23,195.29 L591.59,195.14 L591.96,195.00 L592.32,194.85 L592.69,194.71 L593.05,194.56 L593.41,194.41 L593.78,194.27 L594.14,194.12 L594.50,193.98 L594.87,193.83 L595.23,193.69 L595.59,193.54 L595.96,193.39 L596.32,193.25 L596.68,193.10 L597.04,192.96 L597.40,192.81 L597.77,192.67 L598.13,192.52 L598.49,192.38 L598.85,192.23 L599.21,192.08 L599.57,191.94 L599.93,191.79 L600.29,191.65 L600.65,191.50 L601.01,191.36 L601.37,191.21 L601.73,191.07 L602.09,190.92 L602.45,190.77 L602.81,190.63 L603.17,190.48 L603.53,190.34 L603.88,190.19 L604.24,190.05 L604.60,189.90" fill="none" stroke="#1f77b4" stroke-width="2.1" stroke-linejoin="round" stroke-linecap="butt" />
<path d="M371.50,350.15 L371.76,349.92 L372.02,349.68 L372.28,349.44 L372.54,349.20 L372.80,348.96 L373.06,348.71 L373.31,348.46 L373.57,348.20 L373.83,347.94 L374.08,347.68 L374.33,347.42 L374.59,347.16 L374.84,346.89 L375.09,346.62 L375.34,346.34 L375.59,346.06 L375.84,345.79 L376.09,345.50 L376.34,345.22 L376.59,344.93 L376.84,344.65 L377.08,344.35 L377.33,344.06 L377.58,343.77 L377.82,343.47 L378.07,343.17 L378.31,342.87 L378.55,342.57 L378.80,342.26 L379.04,341.95 L379.28,341.65 L379.53,341.34 L379.77,341.02 L380.01,340.71 L380.25,340.40 L380.49,340.08 L380.73,339.76 L380.97,339.44 L381.21,339.12 L381.45,338.80 L381.69,338.48 L381.93,338.15 L382.17,337.83 L382.40,337.50 L382.64,337.18 L382.88,336.85 L383.12,336.52 L383.35,336.19 L383.59,335.86 L383.83,335.53 L384.06,335.20 L384.30,334.87 L384.54,334.53 L384.77,334.20 L385.01,333.87 L385.25,333.53 L385.48,333.20 L385.72,332.86 L385.95,332.53 L386.19,332.19 L386.42,331.85 L386.66,331.52 L386.90,331.18 L387.13,330.84 L387.37,330.51 L387.60,330.17 L387.84,329.83 L388.07,329.49 L388.31,329.15 L388.55,328.82 L388.78,328.48 L389.02,328.14 L389.25,327.80 L389.49,327.46 L389.73,327.12 L389.96,326.78 L390.20,326.45 L390.44,326.11 L390.67,325.77 L390.91,325.43 L391.15,325.09 L391.39,324.75 L391.62,324.41 L391.86,324.08 L392.10,323.74 L392.34,323.40 L392.58,323.06 L392.82,322.72 L393.06,322.39 L393.30,322.05 L393.54,321.71 L393.78,321.38 L394.02,321.04 L394.26,320.71 L394.51,320.37 L394.75,320.04 L394.99,319.70 L395.23,319.37 L395.48,319.04 L395.72,318.70 L395.97,318.37 L396.21,318.04 L396.46,317.71 L396.70,317.38 L396.95,317.05 L397.20,316.72 L397.45,316.39 L397.70,316.07 L397.95,315.74 L398.19,315.41 L398.45,315.09 L398.70,314.76 L398.95,314.44 L399.20,314.12 L399.45,313.79 L399.71,313.47 L399.96,313.15 L400.22,312.83 L400.47,312.51 L400.73,312.20 L400.99,311.88 L401.24,311.57 L401.50,311.25 L401.76,310.94 L402.02,310.63 L402.28,310.31 L402.55,310.00 L402.81,309.70 L403.07,309.39 L403.34,309.08 L403.60,308.78 L403.87,308.47 L404.14,308.17 L404.40,307.86 L404.67,307.56 L404.94,307.26 L405.21,306.96 L405.48,306.67 L405.75,306.37 L406.03,306.07 L406.30,305.78 L406.57,305.48 L406.85,305.19 L407.12,304.90 L407.40,304.61 L407.68,304.32 L407.95,304.03 L408.23,303.74 L408.51,303.45 L408.79,303.17 L409.07,302.88 L409.35,302.60 L409.64,302.32 L409.92,302.03 L410.20,301.75 L410.49,301.47 L410.77,301.19 L411.06,300.92 L411.34,300.64 L411.63,300.36 L411.92,300.09 L412.21,299.81 L412.50,299.54 L412.79,299.27 L413.08,299.00 L413.37,298.72 L413.66,298.46 L413.95,298.19 L414.25,297.92 L414.54,297.65 L414.84,297.39 L415.13,297.12 L415.43,296.86 L415.72,296.59 L416.02,296.33 L416.32,296.07 L416.62,295.81 L416.92,295.55 L417.22,295.29 L417.52,295.03 L417.82,294.78 L418.12,294.52 L418.42,294.26 L418.73,294.01 L419.03,293.76 L419.33,293.50 L419.64,293.25 L419.95,293.00 L420.25,292.75 L420.56,292.50 L420.87,292.25 L421.17,292.00 L421.48,291.76 L421.79,291.51 L422.10,291.26 L422.41,291.02 L422.72,290.78 L423.03,290.53 L423.35,290.29 L423.66,290.05 L423.97,289.81 L424.29,289.57 L424.60,289.33 L424.92,289.09 L425.23,288.85 L425.55,288.62 L425.87,288.38 L426.18,288.14 L426.50,287.91 L426.82,287.68 L427.14,287.44 L427.46,287.21 L427.78,286.98 L428.10,286.75 L428.42,286.52 L428.74,286.29 L429.06,286.06 L429.39,285.83 L429.71,285.60 L430.03,285.38 L430.36,285.15 L430.68,284.92 L431.01,284.70 L431.33,284.47 L431.66,284.25 L431.99,284.03 L432.31,283.81 L432.64,283.59 L432.97,283.36 L433.30,283.14 L433.63,282.92 L433.96,282.71 L434.29,282.49 L434.62,282.27 L434.95,282.05 L435.28,281.84 L435.61,281.62 L435.94,281.41 L436.28,281.19 L436.61,280.98 L436.94,280.76 L437.28,280.55 L437.61,280.34 L437.95,280.13 L438.28,279.92 L438.62,279.71 L438.96,279.50 L439.29,279.29 L439.63,279.08 L439.97,278.87 L440.31,278.66 L440.64,278.46 L440.98,278.25 L441.32,278.05 L441.66,277.84 L442.00,277.64 L442.34,277.43 L442.68,277.23 L443.03,277.02 L443.37,276.82 L443.71,276.62 L444.05,276.42 L444.39,276.22 L444.74,276.02 L445.08,275.82 L445.43,275.62 L445.77,275.42 L446.11,275.22 L446.46,275.02 L446.80,274.82 L447.15,274.63 L447.50,274.43 L447.84,274.23 L448.19,274.04 L448.54,273.84 L448.88,273.65 L449.23,273.45 L449.58,273.26 L449.93,273.06 L450.28,272.87 L450.63,272.68 L450.98,272.49 L451.33,272.29 L451.68,272.10 L452.03,271.91 L452.38,271.72 L452.73,271.53 L453.08,271.34 L453.43,271.15 L453.78,270.96 L454.13,270.77 L454.49,270.58 L454.84,270.40 L455.19,270.21 L455.55,270.02 L455.90,269.84 L456.25,269.65 L456.61,269.46 L456.96,269.28 L457.32,269.09 L457.67,268.91 L458.03,268.72 L458.38,268.54 L458.74,268.35 L459.09,268.17 L459.45,267.99 L459.80,267.80 L460.16,267.62 L460.52,267.44 L460.88,267.25 L461.23,267.07 L461.59,266.89 L461.95,266.71 L462.31,266.53 L462.66,266.35 L463.02,266.17 L463.38,265.99 L463.74,265.81 L464.10,265.63 L464.46,265.45 L464.82,265.27 L465.18,265.09 L465.54,264.91 L465.89,264.73 L466.25,264.55 L466.62,264.38 L466.98,264.20 L467.34,264.02 L467.70,263.84 L468.06,263.67 L468.42,263.49 L468.78,263.31 L469.14,263.14 L469.50,262.96 L469.86,262.78 L470.23,262.61 L470.59,262.43 L470.95,262.26 L471.31,262.08 L471.67,261.90 L472.04,261.73 L472.40,261.55 L472.76,261.38 L473.12,261.21 L473.49,261.03 L473.85,260.86 L474.21,260.68 L474.58,260.51 L474.94,260.33 L475.30,260.16 L475.67,259.99 L476.03,259.81 L476.39,259.64 L476.76,259.47 L477.12,259.29 L477.49,259.12 L477.85,258.95 L478.21,258.77 L478.58,258.60 L478.94,258.43 L479.31,258.26 L479.67,258.08 L480.04,257.91 L480.40,257.74 L480.76,257.57 L481.13,257.39 L481.49,257.22 L481.86,257.05 L482.22,256.88 L482.59,256.70 L482.95,256.53 L483.32,256.36 L483.68,256.19 L484.05,256.02 L484.41,255.84 L484.78,255.67 L485.14,255.50 L485.51,255.33 L485.87,255.16 L486.24,254.98 L486.60,254.81 L486.97,254.64 L487.33,254.47 L487.70,254.29 L488.06,254.12 L488.43,253.95 L488.79,253.78 L489.16,253.61 L489.52,253.43 L489.89,253.26 L490.25,253.09 L490.61,252.92 L490.98,252.74 L491.34,252.57 L491.71,252.40 L492.07,252.23 L492.44,252.05 L492.80,251.88 L493.17,251.71 L493.53,251.53 L493.89,251.36 L494.26,251.19 L494.62,251.01 L494.99,250.84 L495.35,250.67 L495.71,250.49 L496.08,250.32 L496.44,250.15 L496.81,249.97 L497.17,249.80 L497.53,249.62 L497.90,249.45 L498.26,249.27 L498.62,249.10 L498.99,248.92 L499.35,248.75 L499.71,248.57 L500.07,248.40 L500.44,248.22 L500.80,248.05 L501.16,247.87 L501.52,247.69 L501.89,247.52 L502.25,247.34 L502.61,247.16 L502.97,246.99 L503.33,246.81 L503.69,246.63 L504.05,246.45 L504.42,246.28 L504.78,246.10 L505.14,245.92 L505.50,245.74 L505.86,245.56 L506.22,245.38 L506.58,245.20 L506.94,245.02 L507.30,244.84 L507.66,244.66 L508.02,244.48 L508.37,244.30 L508.73,244.12 L509.09,243.94 L509.45,243.76 L509.81,243.58 L510.17,243.40 L510.52,243.21 L510.88,243.03 L511.24,242.85 L511.60,242.66 L511.95,242.48 L512.31,242.30 L512.67,242.11 L513.02,241.93 L513.38,241.74 L513.73,241.56 L514.09,241.37 L514.45,241.19 L514.80,241.00 L515.10,240.72 L515.39,240.45 L515.69,240.17 L515.99,239.90 L516.29,239.63 L516.59,239.36 L516.90,239.09 L517.20,238.82 L517.50,238.56 L517.81,238.29 L518.11,238.03 L518.42,237.77 L518.72,237.51 L519.03,237.25 L519.34,236.99 L519.65,236.73 L519.96,236.48 L520.27,236.23 L520.58,235.97 L520.89,235.72 L521.20,235.47 L521.52,235.22 L521.83,234.97 L522.15,234.73 L522.46,234.48 L522.78,234.24 L523.09,233.99 L523.41,233.75 L523.73,233.51 L524.05,233.27 L524.37,233.03 L524.69,232.80 L525.01,232.56 L525.33,232.32 L525.65,232.09 L525.98,231.86 L526.30,231.63 L526.62,231.40 L526.95,231.17 L527.28,230.94 L527.60,230.71 L527.93,230.48 L528.26,230.26 L528.59,230.03 L528.91,229.81 L529.24,229.59 L529.57,229.37 L529.90,229.14 L530.24,228.92 L530.57,228.71 L530.90,228.49 L531.23,228.27 L531.57,228.06 L531.90,227.84 L532.24,227.63 L532.57,227.41 L532.91,227.20 L533.25,226.99 L533.58,226.78 L533.92,226.57 L534.26,226.36 L534.60,226.15 L534.94,225.95 L535.28,225.74 L535.62,225.53 L535.96,225.33 L536.30,225.13 L536.65,224.92 L536.99,224.72 L537.33,224.52 L537.68,224.32 L538.02,224.12 L538.37,223.92 L538.71,223.72 L539.06,223.52 L539.41,223.32 L539.75,223.13 L540.10,222.93 L540.45,222.74 L540.80,222.54 L541.15,222.35 L541.50,222.15 L541.85,221.96 L542.20,221.77 L542.55,221.58 L542.90,221.39 L543.25,221.20 L543.60,221.01 L543.96,220.82 L544.31,220.63 L544.66,220.45 L545.02,220.26 L545.37,220.07 L545.73,219.89 L546.08,219.70 L546.44,219.52 L546.80,219.34 L547.15,219.15 L547.51,218.97 L547.87,218.79 L548.23,218.61 L548.59,218.43 L548.95,218.25 L549.30,218.07 L549.66,217.89 L550.02,217.71 L550.39,217.53 L550.75,217.36 L551.11,217.18 L551.47,217.00 L551.83,216.83 L552.19,216.65 L552.56,216.48 L552.92,216.31 L553.28,216.13 L553.65,215.96 L554.01,215.79 L554.38,215.62 L554.74,215.45 L555.11,215.27 L555.47,215.10 L555.84,214.93 L556.21,214.77 L556.57,214.60 L556.94,214.43 L557.31,214.26 L557.67,214.09 L558.04,213.93 L558.41,213.76 L558.78,213.59 L559.15,213.43 L559.52,213.26 L559.89,213.10 L560.25,212.94 L560.62,212.77 L560.99,212.61 L561.37,212.45 L561.74,212.28 L562.11,212.12 L562.48,211.96 L562.85,211.80 L563.22,211.64 L563.59,211.48 L563.97,211.32 L564.34,211.16 L564.71,211.00 L565.08,210.84 L565.46,210.68 L565.83,210.52 L566.20,210.37 L566.58,210.21 L566.95,210.05 L567.33,209.90 L567.70,209.74 L568.07,209.58 L568.45,209.43 L568.82,209.27 L569.20,209.12 L569.57,208.96 L569.95,208.81 L570.33,208.65 L570.70,208.50 L571.08,208.35 L571.45,208.19 L571.83,208.04 L572.21,207.89 L572.58,207.74 L572.96,207.59 L573.34,207.43 L573.71,207.28 L574.09,207.13 L574.47,206.98 L574.85,206.83 L575.22,206.68 L575.60,206.53 L575.98,206.38 L576.36,206.23 L576.73,206.08 L577.11,205.93 L577.49,205.78 L577.87,205.64 L578.25,205.49 L578.63,205.34 L579.00,205.19 L579.38,205.04 L579.76,204.90 L580.14,204.75 L580.52,204.60 L580.90,204.45 L581.28,204.31 L581.66,204.16 L582.03,204.01 L582.41,203.87 L582.79,203.72 L583.17,203.58 L583.55,203.43 L583.93,203.28 L584.31,203.14 L584.69,202.99 L585.07,202.85 L585.45,202.70 L585.83,202.56 L586.21,202.41 L586.59,202.27 L586.96,202.12 L587.34,201.98 L587.72,201.84 L588.10,201.69 L588.48,201.55 L588.86,201.40 L589.24,201.26 L589.62,201.11 L590.00,200.97 L590.38,200.83 L590.76,200.68 L591.14,200.54 L591.51,200.40 L591.89,200.25 L592.27,200.11 L592.65,199.96 L593.03,199.82 L593.41,199.68 L593.79,199.53 L594.16,199.39 L594.54,199.25 L594.92,199.10 L595.30,198.96 L595.68,198.82 L596.06,198.67 L596.43,198.53 L596.81,198.39 L597.19,198.24 L597.57,198.10 L597.94,197.96 L598.32,197.81 L598.70,197.67 L599.08,197.53 L599.45,197.38 L599.83,197.24 L600.21,197.10 L600.58,196.95 L600.96,196.81 L601.33,196.67 L601.71,196.52 L602.09,196.38 L602.46,196.23 L602.84,196.09 L603.21,195.94 L603.59,195.80 L603.96,195.66 L604.34,195.51 L604.71,195.37 L605.09,195.22 L605.46,195.08 L605.84,194.93 L606.21,194.79 L606.58,194.64 L606.96,194.50 L607.33,194.35 L607.70,194.21 L608.07,194.06 L608.45,193.91 L608.82,193.77 L609.19,193.62 L609.56,193.48 L609.93,193.33 L610.31,193.18 L610.68,193.04 L611.05,192.89 L611.42,192.74 L611.79,192.59 L612.16,192.45 L612.53,192.30 L612.90,192.15 L613.27,192.00 L613.63,191.85 L614.00,191.70 L614.37,191.56 L614.74,191.41 L615.11,191.26 L615.47,191.11 L615.84,190.96 L616.21,190.81 L616.57,190.66 L616.94,190.51 L617.30,190.35 L617.67,190.20 L618.04,190.05 L618.40,189.90" fill="none" stroke="#2ca02c" stroke-width="2.1" stroke-linejoin="round" stroke-linecap="butt" />
<line x1="371.5" y1="189.7" x2="684.5" y2="189.7" stroke="#ff0000" stroke-width="1.95"/>
</g>
<rect x="371.5" y="181.5" width="313.0" height="168.7" fill="none" stroke="#000" stroke-width="1.1"/>
<path d="M464.0,335.75 V350.1 H399.4 V335.75 Z" stroke="#ffcc00" stroke-width="3.1" stroke-dasharray="6.2 6.25" stroke-linecap="round" fill="none"/>
<path d="M373.2,307.0 H396.5 V350.1 H373.2 Z" stroke="#ff6600" stroke-width="3.1" stroke-dasharray="6.2 6.25" stroke-linecap="round" fill="none"/>
<line x1="371.5" y1="350.2" x2="371.5" y2="354.59999999999997" stroke="#000" stroke-width="1"/>
<text x="371.5" y="368.7" text-anchor="middle">0</text>
<line x1="422.0" y1="350.2" x2="422.0" y2="354.59999999999997" stroke="#000" stroke-width="1"/>
<text x="422.0" y="368.7" text-anchor="middle">5</text>
<line x1="472.5" y1="350.2" x2="472.5" y2="354.59999999999997" stroke="#000" stroke-width="1"/>
<text x="472.5" y="368.7" text-anchor="middle">10</text>
<line x1="523.0" y1="350.2" x2="523.0" y2="354.59999999999997" stroke="#000" stroke-width="1"/>
<text x="523.0" y="368.7" text-anchor="middle">15</text>
<line x1="573.5" y1="350.2" x2="573.5" y2="354.59999999999997" stroke="#000" stroke-width="1"/>
<text x="573.5" y="368.7" text-anchor="middle">20</text>
<line x1="624.0" y1="350.2" x2="624.0" y2="354.59999999999997" stroke="#000" stroke-width="1"/>
<text x="624.0" y="368.7" text-anchor="middle">25</text>
<line x1="674.5" y1="350.2" x2="674.5" y2="354.59999999999997" stroke="#000" stroke-width="1"/>
<text x="674.5" y="368.7" text-anchor="middle">30</text>
<line x1="366.9" y1="350.1" x2="371.5" y2="350.1" stroke="#000" stroke-width="1"/>
<text x="363.2" y="354.9" text-anchor="end">0.00</text>
<line x1="366.9" y1="310.0" x2="371.5" y2="310.0" stroke="#000" stroke-width="1"/>
<text x="363.2" y="314.8" text-anchor="end">0.05</text>
<line x1="366.9" y1="269.9" x2="371.5" y2="269.9" stroke="#000" stroke-width="1"/>
<text x="363.2" y="274.7" text-anchor="end">0.10</text>
<line x1="366.9" y1="229.8" x2="371.5" y2="229.8" stroke="#000" stroke-width="1"/>
<text x="363.2" y="234.6" text-anchor="end">0.15</text>
<line x1="366.9" y1="189.7" x2="371.5" y2="189.7" stroke="#000" stroke-width="1"/>
<text x="363.2" y="194.5" text-anchor="end">0.20</text>
<text x="494.65" y="385.00" font-size="12.45" textLength="67.43" lengthAdjust="spacingAndGlyphs" >Time [min]</text>
<text transform="translate(327.9,265.8) rotate(-90)" text-anchor="middle">v/c [-]</text>
<text x="374.3" y="294.7" font-family='"DejaVu Sans Mono", "Liberation Mono", monospace' font-weight="bold" style="stroke-width:0.5px">I</text>
<text x="442.0" y="331.5" font-family='"DejaVu Sans Mono", "Liberation Mono", monospace' font-weight="bold" style="stroke-width:0.5px">II</text>
<rect x="541.3" y="267.85" width="136.8" height="75.8" rx="2.5" fill="#fff" fill-opacity="0.8" stroke="#ccc" stroke-opacity="0.8" stroke-width="1"/>
<line x1="546.0" y1="277.67" x2="571.0" y2="277.67" stroke="#e377c2" stroke-width="1.9" stroke-linecap="square"/>
<text x="580.50" y="281.75" font-size="12.45" textLength="91.38" lengthAdjust="spacingAndGlyphs" >Hex. opt. for D</text>
<line x1="546.0" y1="295.85" x2="571.0" y2="295.85" stroke="#1f77b4" stroke-width="1.9" stroke-linecap="square"/>
<text x="580.52" y="299.65" font-size="12.45" textLength="88.17" lengthAdjust="spacingAndGlyphs" >Hex. opt. for T</text>
<line x1="546.0" y1="314.0" x2="571.0" y2="314.0" stroke="#2ca02c" stroke-width="1.9" stroke-linecap="square"/>
<text x="580.51" y="318.05" font-size="12.45" textLength="91.84" lengthAdjust="spacingAndGlyphs" >Pent. opt. for T</text>
<line x1="546.0" y1="332.5" x2="571.0" y2="332.5" stroke="#ff0000" stroke-width="1.9" stroke-linecap="square"/>
<text x="580.87" y="336.50" font-size="12.45" textLength="26.83" lengthAdjust="spacingAndGlyphs" >0.2c</text>
</g>
</g>
</svg>
</body></html>
